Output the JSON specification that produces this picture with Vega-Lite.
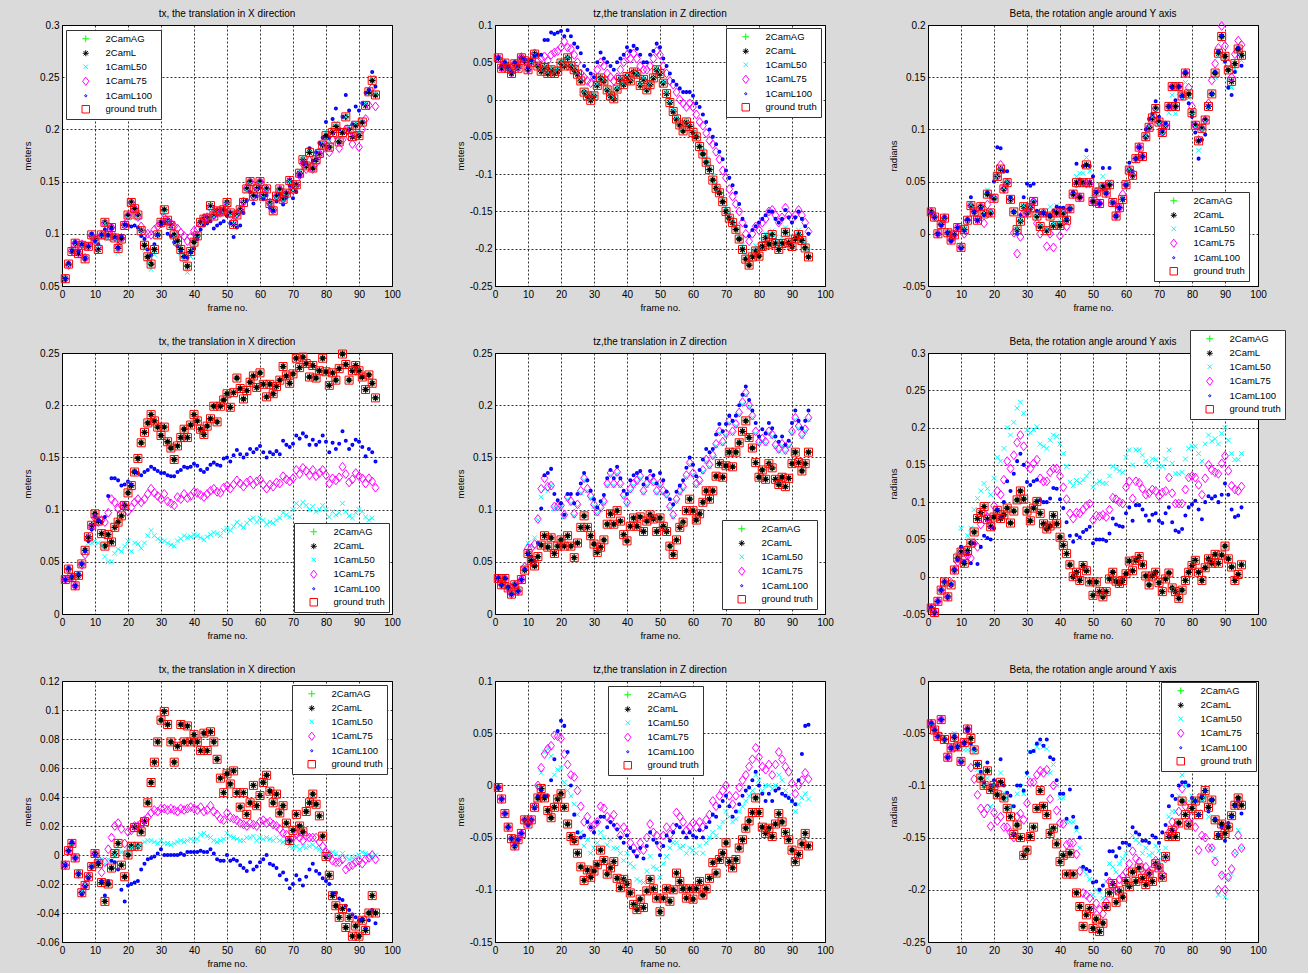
{
  "$schema": "https://vega.github.io/schema/vega-lite/v6.json",
  "background": "#dadada",
  "padding": {"left": 21, "top": 8, "right": 22, "bottom": 5},
  "config": {
    "font": "Liberation Sans",
    "view": {"fill": "white", "stroke": "black", "strokeWidth": 1},
    "axis": {"grid": true, "gridColor": "#000000", "gridDash": [2, 2], "gridOpacity": 1, "gridWidth": 0.8, "domain": false, "ticks": false, "labelFontSize": 10, "labelColor": "#000000", "labelPadding": 3, "labelFlush": false, "labelOverlap": false, "labelBound": false, "titleFontSize": 9.5, "titleFontWeight": "normal", "titleColor": "#000000"},
    "axisX": {"titlePadding": 3, "tickCount": 10},
    "title": {"fontSize": 10, "fontWeight": "normal", "color": "#000000", "offset": 1, "frame": "group"},
    "point": {"filled": false, "opacity": 1, "size": 64, "strokeWidth": 1},
    "range": {
      "category": ["#00ff00", "#000000", "#00ffff", "#ff00ff", "#0000ff", "#ff0000"],
      "symbol": ["M-0.9,0L0.9,0M0,-0.9L0,0.9", "M-0.8,0L0.8,0M0,-0.8L0,0.8M-0.56,-0.56L0.56,0.56M-0.56,0.56L0.56,-0.56", "M-0.6,-0.6L0.6,0.6M-0.6,0.6L0.6,-0.6", "M0,-1.1L0.85,0L0,1.1L-0.85,0Z", "M-0.28,0A0.28,0.28,0,1,0,0.28,0A0.28,0.28,0,1,0,-0.28,0Z", "M-1,-1L1,-1L1,1L-1,1Z"]
    },
    "legend": {"fillColor": "white", "strokeColor": "#333333", "strokeWidth": 1, "padding": 4, "symbolSize": 56, "symbolStrokeWidth": 1.3, "symbolOffset": 11, "labelOffset": 15, "labelFontSize": 9.5, "labelColor": "#000000", "rowPadding": 2.5, "symbolOpacity": 1}
  },
  "datasets": {
    "series": [{"s": "2CamAG"}, {"s": "2CamL"}, {"s": "1CamL50"}, {"s": "1CamL75"}, {"s": "1CamL100"}, {"s": "ground truth"}],
    "p1": [
{"f":1,"g":0.057,"l50":0.058,"l75":0.057,"l100":0.057},{"f":2,"g":0.071,"l50":0.070,"l75":0.070,"l100":0.072},{"f":3,"g":0.083,"l50":0.084,"l75":0.084,"l100":0.084},{"f":4,"g":0.091,"l50":0.090,"l75":0.091,"l100":0.092},{"f":5,"g":0.081,"l50":0.083,"l75":0.082,"l100":0.083},
{"f":6,"g":0.089,"l50":0.088,"l75":0.090,"l100":0.090},{"f":7,"g":0.076,"l50":0.078,"l75":0.077,"l100":0.077},{"f":8,"g":0.088,"l50":0.089,"l75":0.088,"l100":0.088},{"f":9,"g":0.099,"l50":0.097,"l75":0.098,"l100":0.100},{"f":10,"g":0.094,"l50":0.093,"l75":0.095,"l100":0.093},
{"f":11,"g":0.085,"l50":0.088,"l75":0.087,"l100":0.090},{"f":12,"g":0.099,"l50":0.098,"l75":0.099,"l100":0.099},{"f":13,"g":0.111,"l50":0.110,"l75":0.110,"l100":0.104},{"f":14,"g":0.098,"l50":0.095,"l75":0.100,"l100":0.099},{"f":15,"g":0.106,"l50":0.104,"l75":0.106,"l100":0.105},
{"f":16,"g":0.096,"l50":0.095,"l75":0.097,"l100":0.097},{"f":17,"g":0.086,"l50":0.082,"l75":0.088,"l100":0.087},{"f":18,"g":0.095,"l50":0.092,"l75":0.096,"l100":0.098},{"f":19,"g":0.108,"l50":0.106,"l75":0.109,"l100":0.109},{"f":20,"g":0.118,"l50":0.115,"l75":0.117,"l100":0.108},
{"f":21,"g":0.130,"l50":0.128,"l75":0.130,"l100":0.107},{"f":22,"g":0.124,"l50":0.121,"l75":0.124,"l100":0.108},{"f":23,"g":0.118,"l50":0.115,"l75":0.116,"l100":0.106},{"f":24,"g":0.103,"l50":0.101,"l75":0.107,"l100":0.098},{"f":25,"g":0.089,"l50":0.085,"l75":0.100,"l100":0.095},
{"f":26,"g":0.078,"l50":0.073,"l75":0.100,"l100":0.085},{"f":27,"g":0.071,"l50":0.066,"l75":0.099,"l100":0.080},{"f":28,"g":0.085,"l50":0.080,"l75":0.104,"l100":0.090},{"f":29,"g":0.099,"l50":0.098,"l75":0.107,"l100":0.099},{"f":30,"g":0.111,"l50":0.108,"l75":0.110,"l100":0.108},
{"f":31,"g":0.123,"l50":0.120,"l75":0.115,"l100":0.110},{"f":32,"g":0.113,"l50":0.112,"l75":0.112,"l100":0.100},{"f":33,"g":0.108,"l50":0.106,"l75":0.110,"l100":0.098},{"f":34,"g":0.099,"l50":0.097,"l75":0.107,"l100":0.092},{"f":35,"g":0.093,"l50":0.090,"l75":0.105,"l100":0.088},
{"f":36,"g":0.085,"l50":0.082,"l75":0.101,"l100":0.083},{"f":37,"g":0.078,"l50":0.075,"l75":0.098,"l100":0.078},{"f":38,"g":0.069,"l50":0.063,"l75":0.093,"l100":0.077},{"f":39,"g":0.083,"l50":0.078,"l75":0.097,"l100":0.082},{"f":40,"g":0.092,"l50":0.086,"l75":0.103,"l100":0.086},
{"f":41,"g":0.098,"l50":0.096,"l75":0.104,"l100":0.095},{"f":42,"g":0.111,"l50":0.108,"l75":0.110,"l100":0.104},{"f":43,"g":0.114,"l50":0.112,"l75":0.115,"l100":0.108},{"f":44,"g":0.115,"l50":0.113,"l75":0.116,"l100":0.110},{"f":45,"g":0.127,"l50":0.124,"l75":0.125,"l100":0.112},
{"f":46,"g":0.117,"l50":0.116,"l75":0.118,"l100":0.105},{"f":47,"g":0.122,"l50":0.121,"l75":0.120,"l100":0.108},{"f":48,"g":0.121,"l50":0.119,"l75":0.120,"l100":0.110},{"f":49,"g":0.123,"l50":0.120,"l75":0.122,"l100":0.112},{"f":50,"g":0.130,"l50":0.128,"l75":0.127,"l100":0.117},
{"f":51,"g":0.120,"l50":0.118,"l75":0.119,"l100":0.110},{"f":52,"g":0.109,"l50":0.110,"l75":0.112,"l100":0.097},{"f":53,"g":0.118,"l50":0.117,"l75":0.119,"l100":0.106},{"f":54,"g":0.123,"l50":0.122,"l75":0.123,"l100":0.108},{"f":55,"g":0.130,"l50":0.130,"l75":0.131,"l100":0.120},
{"f":56,"g":0.143,"l50":0.141,"l75":0.144,"l100":0.132},{"f":57,"g":0.150,"l50":0.148,"l75":0.150,"l100":0.140},{"f":58,"g":0.136,"l50":0.134,"l75":0.136,"l100":0.129},{"f":59,"g":0.143,"l50":0.142,"l75":0.145,"l100":0.136},{"f":60,"g":0.150,"l50":0.148,"l75":0.150,"l100":0.144},
{"f":61,"g":0.136,"l50":0.135,"l75":0.137,"l100":0.133},{"f":62,"g":0.143,"l50":0.141,"l75":0.143,"l100":0.137},{"f":63,"g":0.129,"l50":0.128,"l75":0.130,"l100":0.125},{"f":64,"g":0.122,"l50":0.120,"l75":0.123,"l100":0.122},{"f":65,"g":0.136,"l50":0.134,"l75":0.136,"l100":0.131},
{"f":66,"g":0.143,"l50":0.140,"l75":0.142,"l100":0.138},{"f":67,"g":0.133,"l50":0.131,"l75":0.133,"l100":0.128},{"f":68,"g":0.139,"l50":0.136,"l75":0.138,"l100":0.135},{"f":69,"g":0.151,"l50":0.150,"l75":0.150,"l100":0.146},{"f":70,"g":0.143,"l50":0.142,"l75":0.142,"l100":0.134},
{"f":71,"g":0.147,"l50":0.145,"l75":0.146,"l100":0.140},{"f":72,"g":0.158,"l50":0.160,"l75":0.156,"l100":0.155},{"f":73,"g":0.171,"l50":0.173,"l75":0.167,"l100":0.167},{"f":74,"g":0.165,"l50":0.166,"l75":0.162,"l100":0.168},{"f":75,"g":0.178,"l50":0.181,"l75":0.170,"l100":0.182},
{"f":76,"g":0.163,"l50":0.166,"l75":0.162,"l100":0.170},{"f":77,"g":0.171,"l50":0.175,"l75":0.168,"l100":0.178},{"f":78,"g":0.177,"l50":0.180,"l75":0.175,"l100":0.187},{"f":79,"g":0.185,"l50":0.188,"l75":0.181,"l100":0.192},{"f":80,"g":0.194,"l50":0.198,"l75":0.185,"l100":0.207},
{"f":81,"g":0.183,"l50":0.188,"l75":0.178,"l100":0.192},{"f":82,"g":0.197,"l50":0.200,"l75":0.190,"l100":0.210},{"f":83,"g":0.203,"l50":0.206,"l75":0.195,"l100":0.220},{"f":84,"g":0.188,"l50":0.192,"l75":0.182,"l100":0.200},{"f":85,"g":0.197,"l50":0.200,"l75":0.190,"l100":0.212},
{"f":86,"g":0.212,"l50":0.212,"l75":0.200,"l100":0.233},{"f":87,"g":0.200,"l50":0.203,"l75":0.193,"l100":0.218},{"f":88,"g":0.193,"l50":0.196,"l75":0.186,"l100":0.205},{"f":89,"g":0.204,"l50":0.206,"l75":0.195,"l100":0.222},{"f":90,"g":0.194,"l50":0.198,"l75":0.183,"l100":0.218},
{"f":91,"g":0.207,"l50":0.210,"l75":0.200,"l100":0.225},{"f":92,"g":0.223,"l50":0.225,"l75":0.210,"l100":0.235},{"f":93,"g":0.236,"l50":0.238,"l75":0.223,"l100":0.238},{"f":94,"g":0.247,"l50":0.250,"l75":0.240,"l100":0.255},{"f":95,"g":0.233,"l50":0.235,"l75":0.222,"l100":0.241}
    ],
    "p2": [
{"f":1,"g":0.056,"l50":0.057,"l75":0.055,"l100":0.056},{"f":2,"g":0.042,"l50":0.044,"l75":0.043,"l100":0.045},{"f":3,"g":0.049,"l50":0.050,"l75":0.048,"l100":0.050},{"f":4,"g":0.042,"l50":0.043,"l75":0.043,"l100":0.044},{"f":5,"g":0.035,"l50":0.037,"l75":0.036,"l100":0.037},
{"f":6,"g":0.048,"l50":0.049,"l75":0.048,"l100":0.050},{"f":7,"g":0.042,"l50":0.043,"l75":0.044,"l100":0.045},{"f":8,"g":0.056,"l50":0.055,"l75":0.057,"l100":0.056},{"f":9,"g":0.052,"l50":0.053,"l75":0.052,"l100":0.054},{"f":10,"g":0.040,"l50":0.042,"l75":0.041,"l100":0.043},
{"f":11,"g":0.050,"l50":0.051,"l75":0.052,"l100":0.053},{"f":12,"g":0.061,"l50":0.060,"l75":0.062,"l100":0.058},{"f":13,"g":0.045,"l50":0.047,"l75":0.052,"l100":0.060},{"f":14,"g":0.038,"l50":0.040,"l75":0.055,"l100":0.060},{"f":15,"g":0.043,"l50":0.045,"l75":0.058,"l100":0.080},
{"f":16,"g":0.035,"l50":0.037,"l75":0.052,"l100":0.080},{"f":17,"g":0.040,"l50":0.042,"l75":0.060,"l100":0.090},{"f":18,"g":0.035,"l50":0.038,"l75":0.063,"l100":0.088},{"f":19,"g":0.038,"l50":0.040,"l75":0.065,"l100":0.090},{"f":20,"g":0.049,"l50":0.050,"l75":0.070,"l100":0.092},
{"f":21,"g":0.045,"l50":0.047,"l75":0.078,"l100":0.085},{"f":22,"g":0.056,"l50":0.057,"l75":0.070,"l100":0.093},{"f":23,"g":0.045,"l50":0.047,"l75":0.068,"l100":0.085},{"f":24,"g":0.040,"l50":0.042,"l75":0.060,"l100":0.075},{"f":25,"g":0.034,"l50":0.036,"l75":0.050,"l100":0.070},
{"f":26,"g":0.025,"l50":0.027,"l75":0.035,"l100":0.062},{"f":27,"g":0.010,"l50":0.012,"l75":0.030,"l100":0.045},{"f":28,"g":0.005,"l50":0.007,"l75":0.025,"l100":0.040},{"f":29,"g":-0.001,"l50":0.001,"l75":0.022,"l100":0.035},{"f":30,"g":0.005,"l50":0.007,"l75":0.030,"l100":0.030},
{"f":31,"g":0.019,"l50":0.021,"l75":0.040,"l100":0.050},{"f":32,"g":0.029,"l50":0.031,"l75":0.050,"l100":0.063},{"f":33,"g":0.025,"l50":0.027,"l75":0.045,"l100":0.055},{"f":34,"g":0.013,"l50":0.015,"l75":0.035,"l100":0.050},{"f":35,"g":0.005,"l50":0.007,"l75":0.030,"l100":0.045},
{"f":36,"g":0.001,"l50":0.003,"l75":0.025,"l100":0.040},{"f":37,"g":0.014,"l50":0.016,"l75":0.030,"l100":0.050},{"f":38,"g":0.027,"l50":0.029,"l75":0.040,"l100":0.055},{"f":39,"g":0.020,"l50":0.022,"l75":0.050,"l100":0.060},{"f":40,"g":0.031,"l50":0.033,"l75":0.060,"l100":0.070},
{"f":41,"g":0.025,"l50":0.027,"l75":0.055,"l100":0.065},{"f":42,"g":0.037,"l50":0.039,"l75":0.062,"l100":0.072},{"f":43,"g":0.034,"l50":0.036,"l75":0.055,"l100":0.068},{"f":44,"g":0.019,"l50":0.021,"l75":0.045,"l100":0.060},{"f":45,"g":0.027,"l50":0.029,"l75":0.040,"l100":0.050},
{"f":46,"g":0.013,"l50":0.015,"l75":0.040,"l100":0.050},{"f":47,"g":0.020,"l50":0.022,"l75":0.045,"l100":0.060},{"f":48,"g":0.029,"l50":0.031,"l75":0.055,"l100":0.065},{"f":49,"g":0.040,"l50":0.042,"l75":0.065,"l100":0.075},{"f":50,"g":0.035,"l50":0.037,"l75":0.060,"l100":0.070},
{"f":51,"g":0.022,"l50":0.024,"l75":0.045,"l100":0.055},{"f":52,"g":0.008,"l50":0.010,"l75":0.035,"l100":0.045},{"f":53,"g":-0.004,"l50":-0.002,"l75":0.025,"l100":0.035},{"f":54,"g":-0.016,"l50":-0.013,"l75":0.020,"l100":0.025},{"f":55,"g":-0.026,"l50":-0.023,"l75":0.010,"l100":0.020},
{"f":56,"g":-0.034,"l50":-0.030,"l75":0.000,"l100":0.015},{"f":57,"g":-0.042,"l50":-0.038,"l75":-0.005,"l100":0.010},{"f":58,"g":-0.030,"l50":-0.027,"l75":-0.010,"l100":0.010},{"f":59,"g":-0.036,"l50":-0.032,"l75":-0.005,"l100":0.010},{"f":60,"g":-0.044,"l50":-0.040,"l75":-0.010,"l100":0.005},
{"f":61,"g":-0.050,"l50":-0.045,"l75":-0.020,"l100":-0.005},{"f":62,"g":-0.063,"l50":-0.058,"l75":-0.030,"l100":-0.010},{"f":63,"g":-0.073,"l50":-0.068,"l75":-0.035,"l100":-0.020},{"f":64,"g":-0.084,"l50":-0.079,"l75":-0.045,"l100":-0.030},{"f":65,"g":-0.094,"l50":-0.089,"l75":-0.055,"l100":-0.040},
{"f":66,"g":-0.108,"l50":-0.102,"l75":-0.060,"l100":-0.050},{"f":67,"g":-0.119,"l50":-0.113,"l75":-0.070,"l100":-0.060},{"f":68,"g":-0.125,"l50":-0.119,"l75":-0.080,"l100":-0.070},{"f":69,"g":-0.137,"l50":-0.131,"l75":-0.095,"l100":-0.080},{"f":70,"g":-0.150,"l50":-0.144,"l75":-0.105,"l100":-0.095},
{"f":71,"g":-0.159,"l50":-0.153,"l75":-0.120,"l100":-0.105},{"f":72,"g":-0.165,"l50":-0.160,"l75":-0.130,"l100":-0.115},{"f":73,"g":-0.174,"l50":-0.169,"l75":-0.140,"l100":-0.125},{"f":74,"g":-0.187,"l50":-0.181,"l75":-0.150,"l100":-0.140},{"f":75,"g":-0.201,"l50":-0.195,"l75":-0.165,"l100":-0.160},
{"f":76,"g":-0.214,"l50":-0.207,"l75":-0.180,"l100":-0.170},{"f":77,"g":-0.222,"l50":-0.214,"l75":-0.190,"l100":-0.183},{"f":78,"g":-0.211,"l50":-0.203,"l75":-0.180,"l100":-0.175},{"f":79,"g":-0.203,"l50":-0.196,"l75":-0.170,"l100":-0.170},{"f":80,"g":-0.210,"l50":-0.200,"l75":-0.175,"l100":-0.165},
{"f":81,"g":-0.197,"l50":-0.188,"l75":-0.165,"l100":-0.160},{"f":82,"g":-0.185,"l50":-0.180,"l75":-0.160,"l100":-0.155},{"f":83,"g":-0.194,"l50":-0.186,"l75":-0.150,"l100":-0.150},{"f":84,"g":-0.181,"l50":-0.176,"l75":-0.148,"l100":-0.150},{"f":85,"g":-0.193,"l50":-0.185,"l75":-0.155,"l100":-0.160},
{"f":86,"g":-0.201,"l50":-0.192,"l75":-0.165,"l100":-0.165},{"f":87,"g":-0.193,"l50":-0.185,"l75":-0.158,"l100":-0.160},{"f":88,"g":-0.178,"l50":-0.172,"l75":-0.145,"l100":-0.148},{"f":89,"g":-0.192,"l50":-0.184,"l75":-0.155,"l100":-0.158},{"f":90,"g":-0.197,"l50":-0.189,"l75":-0.160,"l100":-0.165},
{"f":91,"g":-0.187,"l50":-0.180,"l75":-0.155,"l100":-0.158},{"f":92,"g":-0.181,"l50":-0.175,"l75":-0.148,"l100":-0.150},{"f":93,"g":-0.189,"l50":-0.183,"l75":-0.155,"l100":-0.160},{"f":94,"g":-0.199,"l50":-0.193,"l75":-0.165,"l100":-0.170},{"f":95,"g":-0.211,"l50":-0.203,"l75":-0.177,"l100":-0.180}
    ],
    "p3": [
{"f":1,"g":0.021,"l50":0.020,"l75":0.021,"l100":0.020},{"f":2,"g":0.016,"l50":0.015,"l75":0.016,"l100":0.016},{"f":3,"g":0.000,"l50":0.001,"l75":0.000,"l100":0.000},{"f":4,"g":0.009,"l50":0.010,"l75":0.009,"l100":0.008},{"f":5,"g":0.015,"l50":0.014,"l75":0.015,"l100":0.016},
{"f":6,"g":0.001,"l50":0.002,"l75":0.001,"l100":0.001},{"f":7,"g":-0.006,"l50":-0.005,"l75":-0.006,"l100":-0.007},{"f":8,"g":-0.001,"l50":0.000,"l75":-0.001,"l100":-0.001},{"f":9,"g":0.006,"l50":0.007,"l75":0.006,"l100":0.006},{"f":10,"g":-0.013,"l50":-0.012,"l75":-0.013,"l100":-0.014},
{"f":11,"g":0.004,"l50":0.005,"l75":0.000,"l100":0.003},{"f":12,"g":0.013,"l50":0.013,"l75":0.013,"l100":0.014},{"f":13,"g":0.027,"l50":0.028,"l75":0.027,"l100":0.035},{"f":14,"g":0.021,"l50":0.022,"l75":0.021,"l100":0.021},{"f":15,"g":0.013,"l50":0.015,"l75":0.014,"l100":0.013},
{"f":16,"g":0.026,"l50":0.025,"l75":0.026,"l100":0.024},{"f":17,"g":0.019,"l50":0.020,"l75":0.010,"l100":0.018},{"f":18,"g":0.038,"l50":0.042,"l75":0.028,"l100":0.040},{"f":19,"g":0.020,"l50":0.022,"l75":0.020,"l100":0.036},{"f":20,"g":0.034,"l50":0.036,"l75":0.034,"l100":0.050},
{"f":21,"g":0.055,"l50":0.055,"l75":0.055,"l100":0.083},{"f":22,"g":0.062,"l50":0.063,"l75":0.066,"l100":0.082},{"f":23,"g":0.043,"l50":0.044,"l75":0.043,"l100":0.060},{"f":24,"g":0.049,"l50":0.050,"l75":0.049,"l100":0.060},{"f":25,"g":0.033,"l50":0.034,"l75":0.033,"l100":0.035},
{"f":26,"g":0.021,"l50":0.022,"l75":0.001,"l100":0.021},{"f":27,"g":0.004,"l50":0.005,"l75":-0.019,"l100":0.000},{"f":28,"g":0.012,"l50":0.013,"l75":-0.003,"l100":0.018},{"f":29,"g":0.026,"l50":0.027,"l75":0.020,"l100":0.035},{"f":30,"g":0.020,"l50":0.022,"l75":0.020,"l100":0.048},
{"f":31,"g":0.025,"l50":0.026,"l75":0.025,"l100":0.046},{"f":32,"g":0.031,"l50":0.033,"l75":0.031,"l100":0.048},{"f":33,"g":0.017,"l50":0.019,"l75":0.010,"l100":0.022},{"f":34,"g":0.007,"l50":0.009,"l75":0.000,"l100":0.020},{"f":35,"g":0.020,"l50":0.021,"l75":0.020,"l100":0.020},
{"f":36,"g":0.003,"l50":0.005,"l75":-0.012,"l100":0.018},{"f":37,"g":0.017,"l50":0.026,"l75":0.000,"l100":0.018},{"f":38,"g":0.008,"l50":0.010,"l75":-0.013,"l100":0.022},{"f":39,"g":0.020,"l50":0.027,"l75":0.020,"l100":0.026},{"f":40,"g":0.008,"l50":0.012,"l75":-0.002,"l100":0.025},
{"f":41,"g":0.020,"l50":0.022,"l75":0.020,"l100":0.025},{"f":42,"g":0.013,"l50":0.015,"l75":0.007,"l100":0.015},{"f":43,"g":0.024,"l50":0.025,"l75":0.024,"l100":0.024},{"f":44,"g":0.038,"l50":0.040,"l75":0.038,"l100":0.040},{"f":45,"g":0.049,"l50":0.055,"l75":0.048,"l100":0.067},
{"f":46,"g":0.035,"l50":0.058,"l75":0.035,"l100":0.052},{"f":47,"g":0.049,"l50":0.058,"l75":0.049,"l100":0.065},{"f":48,"g":0.066,"l50":0.073,"l75":0.048,"l100":0.080},{"f":49,"g":0.049,"l50":0.060,"l75":0.048,"l100":0.065},{"f":50,"g":0.031,"l50":0.035,"l75":0.031,"l100":0.055},
{"f":51,"g":0.040,"l50":0.042,"l75":0.040,"l100":0.040},{"f":52,"g":0.029,"l50":0.046,"l75":0.029,"l100":0.029},{"f":53,"g":0.045,"l50":0.055,"l75":0.045,"l100":0.063},{"f":54,"g":0.039,"l50":0.041,"l75":0.039,"l100":0.039},{"f":55,"g":0.047,"l50":0.050,"l75":0.047,"l100":0.063},
{"f":56,"g":0.030,"l50":0.032,"l75":0.030,"l100":0.030},{"f":57,"g":0.017,"l50":0.018,"l75":0.017,"l100":0.017},{"f":58,"g":0.025,"l50":0.026,"l75":0.025,"l100":0.025},{"f":59,"g":0.033,"l50":0.035,"l75":0.038,"l100":0.033},{"f":60,"g":0.047,"l50":0.049,"l75":0.047,"l100":0.047},
{"f":61,"g":0.061,"l50":0.062,"l75":0.061,"l100":0.068},{"f":62,"g":0.056,"l50":0.058,"l75":0.056,"l100":0.060},{"f":63,"g":0.072,"l50":0.072,"l75":0.072,"l100":0.072},{"f":64,"g":0.083,"l50":0.084,"l75":0.083,"l100":0.083},{"f":65,"g":0.074,"l50":0.074,"l75":0.074,"l100":0.074},
{"f":66,"g":0.093,"l50":0.094,"l75":0.093,"l100":0.100},{"f":67,"g":0.102,"l50":0.103,"l75":0.102,"l100":0.110},{"f":68,"g":0.111,"l50":0.112,"l75":0.111,"l100":0.115},{"f":69,"g":0.120,"l50":0.118,"l75":0.120,"l100":0.127},{"f":70,"g":0.107,"l50":0.105,"l75":0.107,"l100":0.112},
{"f":71,"g":0.097,"l50":0.095,"l75":0.097,"l100":0.100},{"f":72,"g":0.104,"l50":0.103,"l75":0.104,"l100":0.106},{"f":73,"g":0.122,"l50":0.116,"l75":0.122,"l100":0.122},{"f":74,"g":0.141,"l50":0.133,"l75":0.141,"l100":0.140},{"f":75,"g":0.122,"l50":0.115,"l75":0.122,"l100":0.128},
{"f":76,"g":0.141,"l50":0.135,"l75":0.141,"l100":0.141},{"f":77,"g":0.132,"l50":0.130,"l75":0.132,"l100":0.132},{"f":78,"g":0.154,"l50":0.145,"l75":0.154,"l100":0.155},{"f":79,"g":0.134,"l50":0.130,"l75":0.140,"l100":0.125},{"f":80,"g":0.116,"l50":0.114,"l75":0.122,"l100":0.112},
{"f":81,"g":0.104,"l50":0.102,"l75":0.104,"l100":0.097},{"f":82,"g":0.089,"l50":0.080,"l75":0.090,"l100":0.072},{"f":83,"g":0.101,"l50":0.099,"l75":0.101,"l100":0.090},{"f":84,"g":0.109,"l50":0.107,"l75":0.109,"l100":0.095},{"f":85,"g":0.122,"l50":0.120,"l75":0.125,"l100":0.122},
{"f":86,"g":0.134,"l50":0.135,"l75":0.147,"l100":0.134},{"f":87,"g":0.154,"l50":0.150,"l75":0.163,"l100":0.155},{"f":88,"g":0.173,"l50":0.170,"l75":0.178,"l100":0.175},{"f":89,"g":0.189,"l50":0.185,"l75":0.199,"l100":0.190},{"f":90,"g":0.170,"l50":0.165,"l75":0.180,"l100":0.165},
{"f":91,"g":0.157,"l50":0.148,"l75":0.163,"l100":0.140},{"f":92,"g":0.146,"l50":0.140,"l75":0.150,"l100":0.133},{"f":93,"g":0.163,"l50":0.158,"l75":0.172,"l100":0.155},{"f":94,"g":0.177,"l50":0.172,"l75":0.185,"l100":0.178},{"f":95,"g":0.171,"l50":0.166,"l75":0.181,"l100":0.161}
    ],
    "p4": [
{"f":1,"g":0.033,"l50":0.034,"l75":0.033,"l100":0.033},{"f":2,"g":0.043,"l50":0.043,"l75":0.043,"l100":0.044},{"f":3,"g":0.035,"l50":0.036,"l75":0.035,"l100":0.036},{"f":4,"g":0.027,"l50":0.028,"l75":0.027,"l100":0.027},{"f":5,"g":0.037,"l50":0.038,"l75":0.037,"l100":0.038},
{"f":6,"g":0.048,"l50":0.048,"l75":0.047,"l100":0.048},{"f":7,"g":0.061,"l50":0.058,"l75":0.057,"l100":0.060},{"f":8,"g":0.074,"l50":0.068,"l75":0.072,"l100":0.070},{"f":9,"g":0.085,"l50":0.068,"l75":0.083,"l100":0.081},{"f":10,"g":0.096,"l50":0.070,"l75":0.092,"l100":0.093},
{"f":11,"g":0.089,"l50":0.068,"l75":0.088,"l100":0.090},{"f":12,"g":0.077,"l50":0.066,"l75":0.090,"l100":0.088},{"f":13,"g":0.065,"l50":0.055,"l75":0.088,"l100":0.093},{"f":14,"g":0.076,"l50":0.050,"l75":0.097,"l100":0.113},{"f":15,"g":0.069,"l50":0.050,"l75":0.110,"l100":0.130},
{"f":16,"g":0.083,"l50":0.058,"l75":0.107,"l100":0.130},{"f":17,"g":0.088,"l50":0.062,"l75":0.101,"l100":0.128},{"f":18,"g":0.094,"l50":0.060,"l75":0.104,"l100":0.123},{"f":19,"g":0.104,"l50":0.065,"l75":0.104,"l100":0.124},{"f":20,"g":0.116,"l50":0.070,"l75":0.098,"l100":0.127},
{"f":21,"g":0.123,"l50":0.060,"l75":0.102,"l100":0.124},{"f":22,"g":0.136,"l50":0.068,"l75":0.107,"l100":0.137},{"f":23,"g":0.149,"l50":0.067,"l75":0.110,"l100":0.135},{"f":24,"g":0.164,"l50":0.063,"l75":0.107,"l100":0.133},{"f":25,"g":0.174,"l50":0.068,"l75":0.110,"l100":0.136},
{"f":26,"g":0.183,"l50":0.075,"l75":0.115,"l100":0.138},{"f":27,"g":0.191,"l50":0.080,"l75":0.120,"l100":0.141},{"f":28,"g":0.185,"l50":0.075,"l75":0.116,"l100":0.139},{"f":29,"g":0.179,"l50":0.072,"l75":0.113,"l100":0.137},{"f":30,"g":0.171,"l50":0.070,"l75":0.110,"l100":0.135},
{"f":31,"g":0.179,"l50":0.070,"l75":0.115,"l100":0.135},{"f":32,"g":0.165,"l50":0.068,"l75":0.108,"l100":0.133},{"f":33,"g":0.159,"l50":0.066,"l75":0.106,"l100":0.132},{"f":34,"g":0.148,"l50":0.065,"l75":0.104,"l100":0.132},{"f":35,"g":0.161,"l50":0.070,"l75":0.112,"l100":0.136},
{"f":36,"g":0.169,"l50":0.072,"l75":0.110,"l100":0.138},{"f":37,"g":0.177,"l50":0.075,"l75":0.115,"l100":0.141},{"f":38,"g":0.169,"l50":0.073,"l75":0.111,"l100":0.140},{"f":39,"g":0.181,"l50":0.074,"l75":0.113,"l100":0.141},{"f":40,"g":0.191,"l50":0.076,"l75":0.117,"l100":0.144},
{"f":41,"g":0.185,"l50":0.075,"l75":0.116,"l100":0.142},{"f":42,"g":0.177,"l50":0.073,"l75":0.114,"l100":0.138},{"f":43,"g":0.172,"l50":0.071,"l75":0.112,"l100":0.136},{"f":44,"g":0.180,"l50":0.074,"l75":0.115,"l100":0.139},{"f":45,"g":0.187,"l50":0.076,"l75":0.118,"l100":0.143},
{"f":46,"g":0.199,"l50":0.078,"l75":0.120,"l100":0.145},{"f":47,"g":0.184,"l50":0.077,"l75":0.117,"l100":0.143},{"f":48,"g":0.199,"l50":0.075,"l75":0.116,"l100":0.142},{"f":49,"g":0.205,"l50":0.080,"l75":0.121,"l100":0.149},{"f":50,"g":0.211,"l50":0.082,"l75":0.123,"l100":0.150},
{"f":51,"g":0.198,"l50":0.080,"l75":0.120,"l100":0.146},{"f":52,"g":0.212,"l50":0.084,"l75":0.124,"l100":0.152},{"f":53,"g":0.226,"l50":0.088,"l75":0.128,"l100":0.157},{"f":54,"g":0.216,"l50":0.085,"l75":0.125,"l100":0.153},{"f":55,"g":0.206,"l50":0.083,"l75":0.122,"l100":0.150},
{"f":56,"g":0.214,"l50":0.087,"l75":0.126,"l100":0.153},{"f":57,"g":0.222,"l50":0.090,"l75":0.128,"l100":0.158},{"f":58,"g":0.228,"l50":0.092,"l75":0.124,"l100":0.155},{"f":59,"g":0.217,"l50":0.088,"l75":0.127,"l100":0.158},{"f":60,"g":0.231,"l50":0.092,"l75":0.129,"l100":0.161},
{"f":61,"g":0.220,"l50":0.090,"l75":0.124,"l100":0.155},{"f":62,"g":0.208,"l50":0.086,"l75":0.120,"l100":0.150},{"f":63,"g":0.220,"l50":0.088,"l75":0.124,"l100":0.155},{"f":64,"g":0.211,"l50":0.087,"l75":0.122,"l100":0.153},{"f":65,"g":0.218,"l50":0.090,"l75":0.126,"l100":0.156},
{"f":66,"g":0.224,"l50":0.092,"l75":0.125,"l100":0.153},{"f":67,"g":0.237,"l50":0.097,"l75":0.132,"l100":0.166},{"f":68,"g":0.228,"l50":0.095,"l75":0.129,"l100":0.162},{"f":69,"g":0.221,"l50":0.093,"l75":0.127,"l100":0.160},{"f":70,"g":0.230,"l50":0.100,"l75":0.130,"l100":0.163},
{"f":71,"g":0.245,"l50":0.106,"l75":0.138,"l100":0.171},{"f":72,"g":0.236,"l50":0.103,"l75":0.134,"l100":0.168},{"f":73,"g":0.246,"l50":0.107,"l75":0.140,"l100":0.173},{"f":74,"g":0.240,"l50":0.104,"l75":0.137,"l100":0.170},{"f":75,"g":0.227,"l50":0.100,"l75":0.133,"l100":0.162},
{"f":76,"g":0.238,"l50":0.103,"l75":0.138,"l100":0.167},{"f":77,"g":0.226,"l50":0.098,"l75":0.132,"l100":0.162},{"f":78,"g":0.233,"l50":0.100,"l75":0.135,"l100":0.165},{"f":79,"g":0.245,"l50":0.104,"l75":0.138,"l100":0.171},{"f":80,"g":0.232,"l50":0.100,"l75":0.133,"l100":0.165},
{"f":81,"g":0.219,"l50":0.093,"l75":0.125,"l100":0.155},{"f":82,"g":0.231,"l50":0.098,"l75":0.130,"l100":0.164},{"f":83,"g":0.224,"l50":0.095,"l75":0.128,"l100":0.158},{"f":84,"g":0.235,"l50":0.097,"l75":0.131,"l100":0.163},{"f":85,"g":0.249,"l50":0.106,"l75":0.141,"l100":0.175},
{"f":86,"g":0.239,"l50":0.098,"l75":0.134,"l100":0.166},{"f":87,"g":0.224,"l50":0.094,"l75":0.126,"l100":0.158},{"f":88,"g":0.233,"l50":0.092,"l75":0.129,"l100":0.162},{"f":89,"g":0.238,"l50":0.097,"l75":0.135,"l100":0.167},{"f":90,"g":0.233,"l50":0.100,"l75":0.132,"l100":0.165},
{"f":91,"g":0.227,"l50":0.098,"l75":0.130,"l100":0.160},{"f":92,"g":0.215,"l50":0.093,"l75":0.125,"l100":0.151},{"f":93,"g":0.229,"l50":0.090,"l75":0.130,"l100":0.158},{"f":94,"g":0.221,"l50":0.092,"l75":0.127,"l100":0.155},{"f":95,"g":0.207,"l50":0.085,"l75":0.121,"l100":0.146}
    ],
    "p5": [
{"f":1,"g":0.034,"l50":0.034,"l75":0.034,"l100":0.035},{"f":2,"g":0.028,"l50":0.028,"l75":0.028,"l100":0.028},{"f":3,"g":0.034,"l50":0.033,"l75":0.034,"l100":0.034},{"f":4,"g":0.025,"l50":0.025,"l75":0.025,"l100":0.026},{"f":5,"g":0.019,"l50":0.019,"l75":0.019,"l100":0.019},
{"f":6,"g":0.028,"l50":0.028,"l75":0.028,"l100":0.028},{"f":7,"g":0.022,"l50":0.022,"l75":0.022,"l100":0.022},{"f":8,"g":0.033,"l50":0.034,"l75":0.033,"l100":0.033},{"f":9,"g":0.042,"l50":0.046,"l75":0.045,"l100":0.043},{"f":10,"g":0.058,"l50":0.068,"l75":0.063,"l100":0.057},
{"f":11,"g":0.051,"l50":0.065,"l75":0.063,"l100":0.055},{"f":12,"g":0.046,"l50":0.073,"l75":0.067,"l100":0.051},{"f":13,"g":0.055,"l50":0.090,"l75":0.091,"l100":0.068},{"f":14,"g":0.066,"l50":0.112,"l75":0.120,"l100":0.101},{"f":15,"g":0.075,"l50":0.120,"l75":0.130,"l100":0.133},
{"f":16,"g":0.064,"l50":0.118,"l75":0.122,"l100":0.135},{"f":17,"g":0.073,"l50":0.123,"l75":0.123,"l100":0.139},{"f":18,"g":0.058,"l50":0.101,"l75":0.103,"l100":0.115},{"f":19,"g":0.065,"l50":0.101,"l75":0.103,"l100":0.109},{"f":20,"g":0.071,"l50":0.102,"l75":0.104,"l100":0.106},
{"f":21,"g":0.065,"l50":0.093,"l75":0.095,"l100":0.095},{"f":22,"g":0.075,"l50":0.110,"l75":0.112,"l100":0.115},{"f":23,"g":0.065,"l50":0.106,"l75":0.108,"l100":0.115},{"f":24,"g":0.054,"l50":0.094,"l75":0.096,"l100":0.106},{"f":25,"g":0.068,"l50":0.103,"l75":0.105,"l100":0.115},
{"f":26,"g":0.083,"l50":0.116,"l75":0.118,"l100":0.125},{"f":27,"g":0.094,"l50":0.128,"l75":0.130,"l100":0.135},{"f":28,"g":0.083,"l50":0.118,"l75":0.120,"l100":0.128},{"f":29,"g":0.075,"l50":0.111,"l75":0.113,"l100":0.118},{"f":30,"g":0.067,"l50":0.103,"l75":0.105,"l100":0.110},
{"f":31,"g":0.059,"l50":0.096,"l75":0.098,"l100":0.102},{"f":32,"g":0.064,"l50":0.100,"l75":0.102,"l100":0.108},{"f":33,"g":0.071,"l50":0.106,"l75":0.108,"l100":0.114},{"f":34,"g":0.086,"l50":0.123,"l75":0.125,"l100":0.130},{"f":35,"g":0.096,"l50":0.133,"l75":0.135,"l100":0.138},
{"f":36,"g":0.086,"l50":0.123,"l75":0.125,"l100":0.130},{"f":37,"g":0.099,"l50":0.134,"l75":0.136,"l100":0.141},{"f":38,"g":0.089,"l50":0.123,"l75":0.125,"l100":0.130},{"f":39,"g":0.076,"l50":0.112,"l75":0.114,"l100":0.118},{"f":40,"g":0.070,"l50":0.105,"l75":0.107,"l100":0.115},
{"f":41,"g":0.084,"l50":0.118,"l75":0.120,"l100":0.128},{"f":42,"g":0.092,"l50":0.123,"l75":0.125,"l100":0.133},{"f":43,"g":0.084,"l50":0.126,"l75":0.128,"l100":0.135},{"f":44,"g":0.093,"l50":0.130,"l75":0.132,"l100":0.137},{"f":45,"g":0.079,"l50":0.116,"l75":0.118,"l100":0.124},
{"f":46,"g":0.089,"l50":0.123,"l75":0.125,"l100":0.130},{"f":47,"g":0.095,"l50":0.128,"l75":0.130,"l100":0.137},{"f":48,"g":0.091,"l50":0.125,"l75":0.127,"l100":0.133},{"f":49,"g":0.079,"l50":0.116,"l75":0.118,"l100":0.125},{"f":50,"g":0.092,"l50":0.123,"l75":0.125,"l100":0.135},
{"f":51,"g":0.084,"l50":0.116,"l75":0.118,"l100":0.128},{"f":52,"g":0.079,"l50":0.113,"l75":0.115,"l100":0.117},{"f":53,"g":0.065,"l50":0.101,"l75":0.103,"l100":0.110},{"f":54,"g":0.057,"l50":0.093,"l75":0.095,"l100":0.105},{"f":55,"g":0.071,"l50":0.108,"l75":0.110,"l100":0.117},
{"f":56,"g":0.083,"l50":0.116,"l75":0.118,"l100":0.123},{"f":57,"g":0.088,"l50":0.120,"l75":0.122,"l100":0.128},{"f":58,"g":0.099,"l50":0.131,"l75":0.133,"l100":0.140},{"f":59,"g":0.110,"l50":0.143,"l75":0.145,"l100":0.150},{"f":60,"g":0.099,"l50":0.133,"l75":0.135,"l100":0.143},
{"f":61,"g":0.090,"l50":0.123,"l75":0.125,"l100":0.132},{"f":62,"g":0.096,"l50":0.126,"l75":0.128,"l100":0.138},{"f":63,"g":0.107,"l50":0.136,"l75":0.138,"l100":0.148},{"f":64,"g":0.118,"l50":0.146,"l75":0.148,"l100":0.158},{"f":65,"g":0.110,"l50":0.141,"l75":0.143,"l100":0.155},
{"f":66,"g":0.118,"l50":0.150,"l75":0.152,"l100":0.158},{"f":67,"g":0.132,"l50":0.161,"l75":0.163,"l100":0.172},{"f":68,"g":0.144,"l50":0.173,"l75":0.175,"l100":0.182},{"f":69,"g":0.131,"l50":0.163,"l75":0.165,"l100":0.175},{"f":70,"g":0.142,"l50":0.171,"l75":0.173,"l100":0.182},
{"f":71,"g":0.155,"l50":0.183,"l75":0.185,"l100":0.190},{"f":72,"g":0.141,"l50":0.173,"l75":0.175,"l100":0.185},{"f":73,"g":0.155,"l50":0.180,"l75":0.182,"l100":0.190},{"f":74,"g":0.164,"l50":0.191,"l75":0.193,"l100":0.200},{"f":75,"g":0.175,"l50":0.201,"l75":0.203,"l100":0.210},
{"f":76,"g":0.185,"l50":0.210,"l75":0.212,"l100":0.218},{"f":77,"g":0.169,"l50":0.198,"l75":0.200,"l100":0.205},{"f":78,"g":0.159,"l50":0.188,"l75":0.190,"l100":0.195},{"f":79,"g":0.145,"l50":0.173,"l75":0.175,"l100":0.183},{"f":80,"g":0.131,"l50":0.163,"l75":0.165,"l100":0.170},
{"f":81,"g":0.138,"l50":0.166,"l75":0.168,"l100":0.177},{"f":82,"g":0.129,"l50":0.163,"l75":0.165,"l100":0.173},{"f":83,"g":0.144,"l50":0.173,"l75":0.175,"l100":0.183},{"f":84,"g":0.140,"l50":0.170,"l75":0.172,"l100":0.178},{"f":85,"g":0.129,"l50":0.160,"l75":0.162,"l100":0.170},
{"f":86,"g":0.124,"l50":0.156,"l75":0.158,"l100":0.165},{"f":87,"g":0.131,"l50":0.161,"l75":0.163,"l100":0.170},{"f":88,"g":0.122,"l50":0.155,"l75":0.157,"l100":0.162},{"f":89,"g":0.130,"l50":0.161,"l75":0.163,"l100":0.166},{"f":90,"g":0.144,"l50":0.173,"l75":0.175,"l100":0.183},
{"f":91,"g":0.155,"l50":0.186,"l75":0.188,"l100":0.195},{"f":92,"g":0.145,"l50":0.178,"l75":0.180,"l100":0.185},{"f":93,"g":0.137,"l50":0.170,"l75":0.172,"l100":0.178},{"f":94,"g":0.144,"l50":0.175,"l75":0.177,"l100":0.185},{"f":95,"g":0.155,"l50":0.186,"l75":0.188,"l100":0.195}
    ],
    "p6": [
{"f":1,"g":-0.042,"l50":-0.042,"l75":-0.042,"l100":-0.041},{"f":2,"g":-0.048,"l50":-0.047,"l75":-0.048,"l100":-0.048},{"f":3,"g":-0.033,"l50":-0.033,"l75":-0.033,"l100":-0.033},{"f":4,"g":-0.018,"l50":-0.018,"l75":-0.018,"l100":-0.018},{"f":5,"g":-0.007,"l50":-0.008,"l75":-0.007,"l100":-0.007},
{"f":6,"g":-0.027,"l50":-0.026,"l75":-0.027,"l100":-0.027},{"f":7,"g":-0.011,"l50":-0.010,"l75":-0.008,"l100":-0.010},{"f":8,"g":0.009,"l50":0.010,"l75":0.009,"l100":0.010},{"f":9,"g":0.025,"l50":0.030,"l75":0.020,"l100":0.022},{"f":10,"g":0.033,"l50":0.065,"l75":0.035,"l100":0.040},
{"f":11,"g":0.018,"l50":0.040,"l75":0.025,"l100":0.020},{"f":12,"g":0.035,"l50":0.055,"l75":0.028,"l100":0.030},{"f":13,"g":0.045,"l50":0.065,"l75":0.025,"l100":0.018},{"f":14,"g":0.060,"l50":0.090,"l75":0.045,"l100":0.045},{"f":15,"g":0.078,"l50":0.105,"l75":0.040,"l100":0.017},
{"f":16,"g":0.086,"l50":0.115,"l75":0.070,"l100":0.040},{"f":17,"g":0.094,"l50":0.125,"l75":0.085,"l100":0.055},{"f":18,"g":0.077,"l50":0.118,"l75":0.080,"l100":0.052},{"f":19,"g":0.067,"l50":0.110,"l75":0.070,"l100":0.050},{"f":20,"g":0.080,"l50":0.132,"l75":0.095,"l100":0.065},
{"f":21,"g":0.089,"l50":0.160,"l75":0.115,"l100":0.090},{"f":22,"g":0.078,"l50":0.155,"l75":0.110,"l100":0.080},{"f":23,"g":0.083,"l50":0.172,"l75":0.130,"l100":0.100},{"f":24,"g":0.092,"l50":0.200,"l75":0.155,"l100":0.128},{"f":25,"g":0.072,"l50":0.190,"l75":0.145,"l100":0.115},
{"f":26,"g":0.088,"l50":0.207,"l75":0.163,"l100":0.138},{"f":27,"g":0.103,"l50":0.226,"l75":0.180,"l100":0.155},{"f":28,"g":0.115,"l50":0.234,"l75":0.190,"l100":0.165},{"f":29,"g":0.104,"l50":0.219,"l75":0.175,"l100":0.150},{"f":30,"g":0.088,"l50":0.197,"l75":0.150,"l100":0.127},
{"f":31,"g":0.075,"l50":0.193,"l75":0.145,"l100":0.123},{"f":32,"g":0.092,"l50":0.197,"l75":0.152,"l100":0.128},{"f":33,"g":0.101,"l50":0.201,"l75":0.157,"l100":0.130},{"f":34,"g":0.085,"l50":0.178,"l75":0.132,"l100":0.103},{"f":35,"g":0.071,"l50":0.175,"l75":0.128,"l100":0.100},
{"f":36,"g":0.064,"l50":0.172,"l75":0.128,"l100":0.100},{"f":37,"g":0.068,"l50":0.183,"l75":0.140,"l100":0.105},{"f":38,"g":0.082,"l50":0.190,"l75":0.145,"l100":0.119},{"f":39,"g":0.071,"l50":0.188,"l75":0.145,"l100":0.118},{"f":40,"g":0.053,"l50":0.178,"l75":0.135,"l100":0.104},
{"f":41,"g":0.042,"l50":0.165,"l75":0.120,"l100":0.092},{"f":42,"g":0.031,"l50":0.148,"l75":0.104,"l100":0.073},{"f":43,"g":0.016,"l50":0.127,"l75":0.085,"l100":0.055},{"f":44,"g":0.000,"l50":0.122,"l75":0.078,"l100":0.047},{"f":45,"g":0.006,"l50":0.129,"l75":0.086,"l100":0.056},
{"f":46,"g":-0.005,"l50":0.126,"l75":0.085,"l100":0.053},{"f":47,"g":0.015,"l50":0.130,"l75":0.090,"l100":0.060},{"f":48,"g":0.008,"l50":0.135,"l75":0.095,"l100":0.063},{"f":49,"g":-0.007,"l50":0.140,"l75":0.098,"l100":0.067},{"f":50,"g":-0.025,"l50":0.120,"l75":0.076,"l100":0.045},
{"f":51,"g":-0.007,"l50":0.125,"l75":0.082,"l100":0.050},{"f":52,"g":-0.020,"l50":0.128,"l75":0.081,"l100":0.050},{"f":53,"g":-0.027,"l50":0.125,"l75":0.083,"l100":0.050},{"f":54,"g":-0.020,"l50":0.125,"l75":0.080,"l100":0.048},{"f":55,"g":-0.003,"l50":0.135,"l75":0.090,"l100":0.058},
{"f":56,"g":0.006,"l50":0.148,"l75":0.106,"l100":0.078},{"f":57,"g":-0.006,"l50":0.145,"l75":0.104,"l100":0.070},{"f":58,"g":-0.009,"l50":0.142,"l75":0.100,"l100":0.068},{"f":59,"g":-0.005,"l50":0.140,"l75":0.098,"l100":0.067},{"f":60,"g":0.004,"l50":0.160,"l75":0.120,"l100":0.085},
{"f":61,"g":0.021,"l50":0.170,"l75":0.128,"l100":0.093},{"f":62,"g":0.008,"l50":0.150,"l75":0.105,"l100":0.075},{"f":63,"g":0.022,"l50":0.170,"l75":0.128,"l100":0.096},{"f":64,"g":0.027,"l50":0.170,"l75":0.126,"l100":0.096},{"f":65,"g":0.016,"l50":0.163,"l75":0.118,"l100":0.090},
{"f":66,"g":0.001,"l50":0.155,"l75":0.110,"l100":0.082},{"f":67,"g":-0.011,"l50":0.150,"l75":0.112,"l100":0.075},{"f":68,"g":0.001,"l50":0.158,"l75":0.117,"l100":0.083},{"f":69,"g":0.006,"l50":0.157,"l75":0.115,"l100":0.085},{"f":70,"g":-0.008,"l50":0.148,"l75":0.108,"l100":0.075},
{"f":71,"g":-0.020,"l50":0.148,"l75":0.113,"l100":0.072},{"f":72,"g":-0.003,"l50":0.158,"l75":0.115,"l100":0.085},{"f":73,"g":0.005,"l50":0.170,"l75":0.133,"l100":0.093},{"f":74,"g":-0.015,"l50":0.152,"l75":0.112,"l100":0.073},{"f":75,"g":-0.020,"l50":0.138,"l75":0.098,"l100":0.062},
{"f":76,"g":-0.029,"l50":0.138,"l75":0.098,"l100":0.060},{"f":77,"g":-0.018,"l50":0.140,"l75":0.098,"l100":0.064},{"f":78,"g":-0.005,"l50":0.158,"l75":0.117,"l100":0.082},{"f":79,"g":0.006,"l50":0.172,"l75":0.133,"l100":0.093},{"f":80,"g":0.015,"l50":0.175,"l75":0.135,"l100":0.097},
{"f":81,"g":0.022,"l50":0.175,"l75":0.133,"l100":0.102},{"f":82,"g":0.006,"l50":0.165,"l75":0.123,"l100":0.090},{"f":83,"g":-0.005,"l50":0.155,"l75":0.110,"l100":0.077},{"f":84,"g":0.012,"l50":0.178,"l75":0.132,"l100":0.100},{"f":85,"g":0.024,"l50":0.190,"l75":0.150,"l100":0.108},
{"f":86,"g":0.018,"l50":0.182,"l75":0.143,"l100":0.105},{"f":87,"g":0.030,"l50":0.185,"l75":0.140,"l100":0.108},{"f":88,"g":0.018,"l50":0.178,"l75":0.138,"l100":0.100},{"f":89,"g":0.029,"l50":0.192,"l75":0.152,"l100":0.110},{"f":90,"g":0.041,"l50":0.200,"l75":0.162,"l100":0.125},
{"f":91,"g":0.024,"l50":0.183,"l75":0.142,"l100":0.110},{"f":92,"g":0.013,"l50":0.165,"l75":0.122,"l100":0.090},{"f":93,"g":-0.005,"l50":0.157,"l75":0.117,"l100":0.080},{"f":94,"g":0.003,"l50":0.157,"l75":0.115,"l100":0.082},{"f":95,"g":0.016,"l50":0.165,"l75":0.121,"l100":0.093}
    ],
    "p7": [
{"f":1,"g":-0.007,"l50":-0.006,"l75":-0.007,"l100":-0.007},{"f":2,"g":0.003,"l50":0.003,"l75":0.003,"l100":0.003},{"f":3,"g":0.008,"l50":0.008,"l75":0.008,"l100":0.009},{"f":4,"g":-0.002,"l50":-0.002,"l75":-0.002,"l100":-0.002},{"f":5,"g":-0.013,"l50":-0.012,"l75":-0.013,"l100":-0.013},
{"f":6,"g":-0.026,"l50":-0.025,"l75":-0.026,"l100":-0.027},{"f":7,"g":-0.021,"l50":-0.020,"l75":-0.021,"l100":-0.022},{"f":8,"g":-0.015,"l50":-0.014,"l75":-0.015,"l100":-0.016},{"f":9,"g":-0.008,"l50":-0.007,"l75":-0.008,"l100":-0.008},{"f":10,"g":0.001,"l50":0.000,"l75":0.001,"l100":0.000},
{"f":11,"g":-0.006,"l50":-0.002,"l75":-0.003,"l100":-0.005},{"f":12,"g":-0.019,"l50":-0.003,"l75":-0.012,"l100":-0.018},{"f":13,"g":-0.032,"l50":-0.006,"l75":-0.005,"l100":-0.028},{"f":14,"g":-0.020,"l50":-0.003,"l75":0.004,"l100":-0.018},{"f":15,"g":-0.009,"l50":-0.004,"l75":0.012,"l100":-0.004},
{"f":16,"g":0.001,"l50":0.000,"l75":0.020,"l100":-0.005},{"f":17,"g":0.008,"l50":0.003,"l75":0.022,"l100":-0.010},{"f":18,"g":-0.007,"l50":0.002,"l75":0.018,"l100":-0.024},{"f":19,"g":-0.015,"l50":0.001,"l75":0.008,"l100":-0.032},{"f":20,"g":0.000,"l50":0.003,"l75":0.016,"l100":-0.021},
{"f":21,"g":0.006,"l50":0.005,"l75":0.017,"l100":-0.020},{"f":22,"g":0.019,"l50":0.004,"l75":0.020,"l100":-0.019},{"f":23,"g":0.006,"l50":0.006,"l75":0.020,"l100":-0.018},{"f":24,"g":0.016,"l50":0.007,"l75":0.022,"l100":-0.010},{"f":25,"g":0.023,"l50":0.009,"l75":0.024,"l100":-0.006},
{"f":26,"g":0.036,"l50":0.010,"l75":0.026,"l100":-0.003},{"f":27,"g":0.050,"l50":0.010,"l75":0.029,"l100":-0.002},{"f":28,"g":0.064,"l50":0.009,"l75":0.031,"l100":-0.001},{"f":29,"g":0.078,"l50":0.008,"l75":0.030,"l100":0.001},{"f":30,"g":0.093,"l50":0.010,"l75":0.032,"l100":0.004},
{"f":31,"g":0.099,"l50":0.008,"l75":0.032,"l100":0.000},{"f":32,"g":0.090,"l50":0.008,"l75":0.031,"l100":0.000},{"f":33,"g":0.078,"l50":0.007,"l75":0.032,"l100":0.000},{"f":34,"g":0.064,"l50":0.008,"l75":0.031,"l100":0.000},{"f":35,"g":0.075,"l50":0.009,"l75":0.030,"l100":0.000},
{"f":36,"g":0.090,"l50":0.010,"l75":0.032,"l100":0.001},{"f":37,"g":0.078,"l50":0.009,"l75":0.031,"l100":0.000},{"f":38,"g":0.089,"l50":0.010,"l75":0.032,"l100":0.002},{"f":39,"g":0.078,"l50":0.011,"l75":0.033,"l100":0.002},{"f":40,"g":0.083,"l50":0.010,"l75":0.032,"l100":0.002},
{"f":41,"g":0.078,"l50":0.011,"l75":0.031,"l100":0.002},{"f":42,"g":0.072,"l50":0.014,"l75":0.033,"l100":0.003},{"f":43,"g":0.084,"l50":0.015,"l75":0.030,"l100":0.002},{"f":44,"g":0.072,"l50":0.013,"l75":0.031,"l100":0.002},{"f":45,"g":0.085,"l50":0.012,"l75":0.034,"l100":0.004},
{"f":46,"g":0.078,"l50":0.010,"l75":0.030,"l100":0.001},{"f":47,"g":0.066,"l50":0.009,"l75":0.028,"l100":-0.003},{"f":48,"g":0.053,"l50":0.010,"l75":0.025,"l100":-0.004},{"f":49,"g":0.043,"l50":0.011,"l75":0.024,"l100":-0.004},{"f":50,"g":0.056,"l50":0.015,"l75":0.029,"l100":0.000},
{"f":51,"g":0.049,"l50":0.013,"l75":0.026,"l100":-0.004},{"f":52,"g":0.058,"l50":0.012,"l75":0.025,"l100":-0.003},{"f":53,"g":0.043,"l50":0.011,"l75":0.024,"l100":-0.004},{"f":54,"g":0.033,"l50":0.010,"l75":0.022,"l100":-0.007},{"f":55,"g":0.043,"l50":0.010,"l75":0.021,"l100":-0.009},
{"f":56,"g":0.028,"l50":0.012,"l75":0.020,"l100":-0.011},{"f":57,"g":0.036,"l50":0.012,"l75":0.022,"l100":-0.005},{"f":58,"g":0.048,"l50":0.013,"l75":0.021,"l100":-0.010},{"f":59,"g":0.034,"l50":0.010,"l75":0.020,"l100":-0.008},{"f":60,"g":0.041,"l50":0.012,"l75":0.023,"l100":-0.005},
{"f":61,"g":0.050,"l50":0.011,"l75":0.024,"l100":-0.003},{"f":62,"g":0.055,"l50":0.012,"l75":0.022,"l100":0.000},{"f":63,"g":0.044,"l50":0.011,"l75":0.023,"l100":-0.006},{"f":64,"g":0.036,"l50":0.010,"l75":0.021,"l100":-0.007},{"f":65,"g":0.042,"l50":0.012,"l75":0.020,"l100":-0.009},
{"f":66,"g":0.029,"l50":0.010,"l75":0.018,"l100":-0.014},{"f":67,"g":0.034,"l50":0.009,"l75":0.015,"l100":-0.012},{"f":68,"g":0.022,"l50":0.008,"l75":0.014,"l100":-0.017},{"f":69,"g":0.010,"l50":0.006,"l75":0.010,"l100":-0.023},{"f":70,"g":0.017,"l50":0.005,"l75":0.012,"l100":-0.020},
{"f":71,"g":0.028,"l50":0.006,"l75":0.014,"l100":-0.014},{"f":72,"g":0.020,"l50":0.004,"l75":0.012,"l100":-0.017},{"f":73,"g":0.016,"l50":0.006,"l75":0.010,"l100":-0.021},{"f":74,"g":0.030,"l50":0.005,"l75":0.013,"l100":-0.015},{"f":75,"g":0.036,"l50":0.006,"l75":0.012,"l100":-0.010},
{"f":76,"g":0.042,"l50":0.007,"l75":0.012,"l100":-0.006},{"f":77,"g":0.035,"l50":0.005,"l75":0.012,"l100":-0.011},{"f":78,"g":0.027,"l50":0.004,"l75":0.009,"l100":-0.013},{"f":79,"g":0.013,"l50":0.003,"l75":0.006,"l100":-0.016},{"f":80,"g":-0.001,"l50":0.001,"l75":0.002,"l100":-0.018},
{"f":81,"g":-0.014,"l50":0.000,"l75":0.000,"l100":-0.020},{"f":82,"g":-0.028,"l50":0.002,"l75":-0.004,"l100":-0.026},{"f":83,"g":-0.035,"l50":0.001,"l75":-0.005,"l100":-0.026},{"f":84,"g":-0.043,"l50":-0.001,"l75":-0.005,"l100":-0.030},{"f":85,"g":-0.037,"l50":0.001,"l75":-0.003,"l100":-0.031},
{"f":86,"g":-0.050,"l50":-0.001,"l75":-0.010,"l100":-0.035},{"f":87,"g":-0.043,"l50":-0.003,"l75":-0.008,"l100":-0.038},{"f":88,"g":-0.056,"l50":-0.002,"l75":-0.007,"l100":-0.041},{"f":89,"g":-0.049,"l50":-0.001,"l75":-0.005,"l100":-0.043},{"f":90,"g":-0.056,"l50":0.000,"l75":-0.004,"l100":-0.045},
{"f":91,"g":-0.045,"l50":0.002,"l75":-0.006,"l100":-0.044},{"f":92,"g":-0.052,"l50":0.001,"l75":-0.003,"l100":-0.050},{"f":93,"g":-0.040,"l50":0.000,"l75":-0.002,"l100":-0.045},{"f":94,"g":-0.028,"l50":-0.001,"l75":0.000,"l100":-0.038},{"f":95,"g":-0.040,"l50":0.000,"l75":-0.003,"l100":-0.047}
    ],
    "p8": [
{"f":1,"g":-0.002,"l50":-0.002,"l75":-0.002,"l100":-0.002},{"f":2,"g":-0.013,"l50":-0.013,"l75":-0.013,"l100":-0.013},{"f":3,"g":-0.027,"l50":-0.027,"l75":-0.027,"l100":-0.027},{"f":4,"g":-0.040,"l50":-0.040,"l75":-0.040,"l100":-0.040},{"f":5,"g":-0.051,"l50":-0.051,"l75":-0.051,"l100":-0.051},
{"f":6,"g":-0.058,"l50":-0.057,"l75":-0.058,"l100":-0.057},{"f":7,"g":-0.052,"l50":-0.052,"l75":-0.052,"l100":-0.052},{"f":8,"g":-0.046,"l50":-0.046,"l75":-0.046,"l100":-0.046},{"f":9,"g":-0.033,"l50":-0.033,"l75":-0.033,"l100":-0.033},{"f":10,"g":-0.037,"l50":-0.037,"l75":-0.037,"l100":-0.038},
{"f":11,"g":-0.033,"l50":-0.033,"l75":-0.033,"l100":-0.033},{"f":12,"g":-0.021,"l50":-0.020,"l75":-0.020,"l100":-0.022},{"f":13,"g":-0.012,"l50":0.000,"l75":0.000,"l100":-0.010},{"f":14,"g":-0.003,"l50":0.012,"l75":0.017,"l100":-0.005},{"f":15,"g":-0.012,"l50":0.032,"l75":0.030,"l100":-0.010},
{"f":16,"g":-0.024,"l50":0.035,"l75":0.035,"l100":-0.010},{"f":17,"g":-0.031,"l50":0.028,"l75":0.038,"l100":0.005},{"f":18,"g":-0.021,"l50":0.010,"l75":0.048,"l100":0.025},{"f":19,"g":-0.013,"l50":0.015,"l75":0.047,"l100":0.052},{"f":20,"g":-0.008,"l50":0.017,"l75":0.045,"l100":0.062},
{"f":21,"g":-0.021,"l50":0.003,"l75":0.030,"l100":0.057},{"f":22,"g":-0.037,"l50":-0.005,"l75":0.020,"l100":0.032},{"f":23,"g":-0.049,"l50":-0.010,"l75":0.010,"l100":0.000},{"f":24,"g":-0.053,"l50":-0.018,"l75":0.008,"l100":-0.028},{"f":25,"g":-0.065,"l50":-0.028,"l75":-0.005,"l100":-0.045},
{"f":26,"g":-0.078,"l50":-0.045,"l75":-0.020,"l100":-0.050},{"f":27,"g":-0.091,"l50":-0.058,"l75":-0.035,"l100":-0.048},{"f":28,"g":-0.081,"l50":-0.052,"l75":-0.030,"l100":-0.035},{"f":29,"g":-0.088,"l50":-0.065,"l75":-0.040,"l100":-0.040},{"f":30,"g":-0.082,"l50":-0.060,"l75":-0.038,"l100":-0.045},
{"f":31,"g":-0.076,"l50":-0.055,"l75":-0.035,"l100":-0.035},{"f":32,"g":-0.062,"l50":-0.045,"l75":-0.020,"l100":-0.030},{"f":33,"g":-0.072,"l50":-0.050,"l75":-0.022,"l100":-0.030},{"f":34,"g":-0.085,"l50":-0.057,"l75":-0.030,"l100":-0.040},{"f":35,"g":-0.079,"l50":-0.052,"l75":-0.033,"l100":-0.035},
{"f":36,"g":-0.073,"l50":-0.060,"l75":-0.028,"l100":-0.038},{"f":37,"g":-0.089,"l50":-0.060,"l75":-0.040,"l100":-0.042},{"f":38,"g":-0.098,"l50":-0.065,"l75":-0.048,"l100":-0.050},{"f":39,"g":-0.090,"l50":-0.072,"l75":-0.040,"l100":-0.055},{"f":40,"g":-0.094,"l50":-0.065,"l75":-0.045,"l100":-0.048},
{"f":41,"g":-0.103,"l50":-0.075,"l75":-0.055,"l100":-0.060},{"f":42,"g":-0.114,"l50":-0.078,"l75":-0.060,"l100":-0.063},{"f":43,"g":-0.119,"l50":-0.090,"l75":-0.065,"l100":-0.068},{"f":44,"g":-0.109,"l50":-0.092,"l75":-0.055,"l100":-0.060},{"f":45,"g":-0.117,"l50":-0.093,"l75":-0.062,"l100":-0.070},
{"f":46,"g":-0.101,"l50":-0.082,"l75":-0.050,"l100":-0.058},{"f":47,"g":-0.090,"l50":-0.068,"l75":-0.037,"l100":-0.045},{"f":48,"g":-0.099,"l50":-0.078,"l75":-0.045,"l100":-0.052},{"f":49,"g":-0.108,"l50":-0.080,"l75":-0.048,"l100":-0.055},{"f":50,"g":-0.121,"l50":-0.088,"l75":-0.058,"l100":-0.067},
{"f":51,"g":-0.108,"l50":-0.075,"l75":-0.048,"l100":-0.058},{"f":52,"g":-0.099,"l50":-0.068,"l75":-0.040,"l100":-0.048},{"f":53,"g":-0.111,"l50":-0.060,"l75":-0.047,"l100":-0.053},{"f":54,"g":-0.100,"l50":-0.055,"l75":-0.040,"l100":-0.045},{"f":55,"g":-0.084,"l50":-0.055,"l75":-0.026,"l100":-0.038},
{"f":56,"g":-0.092,"l50":-0.060,"l75":-0.030,"l100":-0.040},{"f":57,"g":-0.099,"l50":-0.058,"l75":-0.035,"l100":-0.045},{"f":58,"g":-0.108,"l50":-0.065,"l75":-0.043,"l100":-0.050},{"f":59,"g":-0.099,"l50":-0.060,"l75":-0.040,"l100":-0.045},{"f":60,"g":-0.109,"l50":-0.062,"l75":-0.036,"l100":-0.048},
{"f":61,"g":-0.099,"l50":-0.065,"l75":-0.040,"l100":-0.050},{"f":62,"g":-0.092,"l50":-0.058,"l75":-0.035,"l100":-0.043},{"f":63,"g":-0.105,"l50":-0.065,"l75":-0.040,"l100":-0.050},{"f":64,"g":-0.099,"l50":-0.055,"l75":-0.033,"l100":-0.040},{"f":65,"g":-0.089,"l50":-0.050,"l75":-0.028,"l100":-0.035},
{"f":66,"g":-0.074,"l50":-0.045,"l75":-0.015,"l100":-0.028},{"f":67,"g":-0.084,"l50":-0.048,"l75":-0.020,"l100":-0.030},{"f":68,"g":-0.071,"l50":-0.040,"l75":-0.010,"l100":-0.020},{"f":69,"g":-0.065,"l50":-0.035,"l75":-0.005,"l100":-0.015},{"f":70,"g":-0.055,"l50":-0.025,"l75":0.000,"l100":-0.010},
{"f":71,"g":-0.073,"l50":-0.030,"l75":-0.010,"l100":-0.020},{"f":72,"g":-0.079,"l50":-0.035,"l75":-0.018,"l100":-0.030},{"f":73,"g":-0.071,"l50":-0.032,"l75":-0.010,"l100":-0.025},{"f":74,"g":-0.060,"l50":-0.025,"l75":-0.002,"l100":-0.018},{"f":75,"g":-0.052,"l50":-0.020,"l75":0.005,"l100":-0.010},
{"f":76,"g":-0.041,"l50":-0.015,"l75":0.010,"l100":-0.005},{"f":77,"g":-0.034,"l50":-0.010,"l75":0.018,"l100":-0.002},{"f":78,"g":-0.026,"l50":-0.005,"l75":0.025,"l100":0.005},{"f":79,"g":-0.012,"l50":0.010,"l75":0.036,"l100":0.013},{"f":80,"g":-0.026,"l50":0.005,"l75":0.027,"l100":0.000},
{"f":81,"g":-0.040,"l50":-0.005,"l75":0.018,"l100":-0.008},{"f":82,"g":-0.046,"l50":0.000,"l75":0.015,"l100":-0.015},{"f":83,"g":-0.041,"l50":0.000,"l75":0.020,"l100":-0.008},{"f":84,"g":-0.049,"l50":-0.003,"l75":0.010,"l100":-0.015},{"f":85,"g":-0.037,"l50":0.000,"l75":0.020,"l100":-0.005},
{"f":86,"g":-0.027,"l50":0.010,"l75":0.032,"l100":-0.003},{"f":87,"g":-0.035,"l50":0.005,"l75":0.025,"l100":-0.008},{"f":88,"g":-0.045,"l50":-0.005,"l75":0.018,"l100":-0.010},{"f":89,"g":-0.052,"l50":-0.010,"l75":0.013,"l100":-0.012},{"f":90,"g":-0.062,"l50":-0.015,"l75":0.002,"l100":-0.015},
{"f":91,"g":-0.073,"l50":-0.025,"l75":-0.008,"l100":-0.018},{"f":92,"g":-0.066,"l50":-0.018,"l75":0.000,"l100":0.005},{"f":93,"g":-0.056,"l50":-0.012,"l75":0.005,"l100":0.030},{"f":94,"g":-0.046,"l50":-0.008,"l75":0.012,"l100":0.057},{"f":95,"g":-0.058,"l50":-0.013,"l75":0.006,"l100":0.058}
    ],
    "p9": [
{"f":1,"g":-0.041,"l50":-0.041,"l75":-0.041,"l100":-0.040},{"f":2,"g":-0.047,"l50":-0.047,"l75":-0.047,"l100":-0.047},{"f":3,"g":-0.053,"l50":-0.053,"l75":-0.053,"l100":-0.053},{"f":4,"g":-0.037,"l50":-0.037,"l75":-0.037,"l100":-0.037},{"f":5,"g":-0.056,"l50":-0.056,"l75":-0.056,"l100":-0.056},
{"f":6,"g":-0.073,"l50":-0.072,"l75":-0.073,"l100":-0.073},{"f":7,"g":-0.064,"l50":-0.063,"l75":-0.064,"l100":-0.064},{"f":8,"g":-0.054,"l50":-0.050,"l75":-0.054,"l100":-0.053},{"f":9,"g":-0.063,"l50":-0.062,"l75":-0.063,"l100":-0.063},{"f":10,"g":-0.077,"l50":-0.076,"l75":-0.077,"l100":-0.078},
{"f":11,"g":-0.059,"l50":-0.066,"l75":-0.059,"l100":-0.060},{"f":12,"g":-0.046,"l50":-0.066,"l75":-0.046,"l100":-0.048},{"f":13,"g":-0.055,"l50":-0.066,"l75":-0.083,"l100":-0.060},{"f":14,"g":-0.066,"l50":-0.068,"l75":-0.094,"l100":-0.065},{"f":15,"g":-0.080,"l50":-0.085,"l75":-0.109,"l100":-0.080},
{"f":16,"g":-0.093,"l50":-0.090,"l75":-0.122,"l100":-0.087},{"f":17,"g":-0.100,"l50":-0.100,"l75":-0.127,"l100":-0.097},{"f":18,"g":-0.086,"l50":-0.093,"l75":-0.122,"l100":-0.078},{"f":19,"g":-0.104,"l50":-0.120,"l75":-0.139,"l100":-0.100},{"f":20,"g":-0.100,"l50":-0.100,"l75":-0.126,"l100":-0.095},
{"f":21,"g":-0.109,"l50":-0.100,"l75":-0.134,"l100":-0.100},{"f":22,"g":-0.097,"l50":-0.088,"l75":-0.130,"l100":-0.075},{"f":23,"g":-0.112,"l50":-0.107,"l75":-0.140,"l100":-0.100},{"f":24,"g":-0.122,"l50":-0.112,"l75":-0.140,"l100":-0.107},{"f":25,"g":-0.130,"l50":-0.120,"l75":-0.145,"l100":-0.110},
{"f":26,"g":-0.147,"l50":-0.130,"l75":-0.150,"l100":-0.120},{"f":27,"g":-0.138,"l50":-0.108,"l75":-0.130,"l100":-0.100},{"f":28,"g":-0.150,"l50":-0.101,"l75":-0.127,"l100":-0.100},{"f":29,"g":-0.167,"l50":-0.108,"l75":-0.133,"l100":-0.105},{"f":30,"g":-0.162,"l50":-0.090,"l75":-0.117,"l100":-0.088},
{"f":31,"g":-0.149,"l50":-0.068,"l75":-0.097,"l100":-0.068},{"f":32,"g":-0.140,"l50":-0.067,"l75":-0.097,"l100":-0.067},{"f":33,"g":-0.122,"l50":-0.063,"l75":-0.090,"l100":-0.060},{"f":34,"g":-0.105,"l50":-0.060,"l75":-0.086,"l100":-0.056},{"f":35,"g":-0.120,"l50":-0.063,"l75":-0.088,"l100":-0.062},
{"f":36,"g":-0.128,"l50":-0.065,"l75":-0.085,"l100":-0.056},{"f":37,"g":-0.146,"l50":-0.088,"l75":-0.113,"l100":-0.073},{"f":38,"g":-0.141,"l50":-0.080,"l75":-0.100,"l100":-0.075},{"f":39,"g":-0.156,"l50":-0.100,"l75":-0.124,"l100":-0.095},{"f":40,"g":-0.173,"l50":-0.112,"l75":-0.136,"l100":-0.108},
{"f":41,"g":-0.167,"l50":-0.112,"l75":-0.137,"l100":-0.108},{"f":42,"g":-0.185,"l50":-0.135,"l75":-0.157,"l100":-0.132},{"f":43,"g":-0.165,"l50":-0.135,"l75":-0.155,"l100":-0.104},{"f":44,"g":-0.185,"l50":-0.135,"l75":-0.155,"l100":-0.130},{"f":45,"g":-0.203,"l50":-0.143,"l75":-0.166,"l100":-0.140},
{"f":46,"g":-0.216,"l50":-0.160,"l75":-0.182,"l100":-0.150},{"f":47,"g":-0.235,"l50":-0.180,"l75":-0.203,"l100":-0.178},{"f":48,"g":-0.224,"l50":-0.185,"l75":-0.205,"l100":-0.180},{"f":49,"g":-0.218,"l50":-0.190,"l75":-0.208,"l100":-0.182},{"f":50,"g":-0.237,"l50":-0.205,"l75":-0.220,"l100":-0.193},
{"f":51,"g":-0.228,"l50":-0.200,"l75":-0.213,"l100":-0.192},{"f":52,"g":-0.240,"l50":-0.202,"l75":-0.219,"l100":-0.200},{"f":53,"g":-0.232,"l50":-0.208,"l75":-0.223,"l100":-0.196},{"f":54,"g":-0.216,"l50":-0.192,"l75":-0.212,"l100":-0.185},{"f":55,"g":-0.203,"l50":-0.175,"l75":-0.192,"l100":-0.163},
{"f":56,"g":-0.194,"l50":-0.178,"l75":-0.197,"l100":-0.163},{"f":57,"g":-0.212,"l50":-0.183,"l75":-0.200,"l100":-0.168},{"f":58,"g":-0.201,"l50":-0.175,"l75":-0.190,"l100":-0.160},{"f":59,"g":-0.207,"l50":-0.170,"l75":-0.187,"l100":-0.155},{"f":60,"g":-0.192,"l50":-0.165,"l75":-0.183,"l100":-0.155},
{"f":61,"g":-0.197,"l50":-0.158,"l75":-0.175,"l100":-0.157},{"f":62,"g":-0.183,"l50":-0.148,"l75":-0.163,"l100":-0.140},{"f":63,"g":-0.192,"l50":-0.152,"l75":-0.170,"l100":-0.145},{"f":64,"g":-0.179,"l50":-0.155,"l75":-0.173,"l100":-0.147},{"f":65,"g":-0.189,"l50":-0.165,"l75":-0.182,"l100":-0.153},
{"f":66,"g":-0.195,"l50":-0.160,"l75":-0.178,"l100":-0.153},{"f":67,"g":-0.185,"l50":-0.167,"l75":-0.183,"l100":-0.155},{"f":68,"g":-0.192,"l50":-0.165,"l75":-0.180,"l100":-0.148},{"f":69,"g":-0.175,"l50":-0.158,"l75":-0.172,"l100":-0.150},{"f":70,"g":-0.179,"l50":-0.163,"l75":-0.178,"l100":-0.155},
{"f":71,"g":-0.188,"l50":-0.172,"l75":-0.185,"l100":-0.145},{"f":72,"g":-0.168,"l50":-0.160,"l75":-0.170,"l100":-0.138},{"f":73,"g":-0.149,"l50":-0.130,"l75":-0.145,"l100":-0.120},{"f":74,"g":-0.143,"l50":-0.125,"l75":-0.135,"l100":-0.110},{"f":75,"g":-0.149,"l50":-0.125,"l75":-0.140,"l100":-0.113},
{"f":76,"g":-0.136,"l50":-0.110,"l75":-0.125,"l100":-0.100},{"f":77,"g":-0.115,"l50":-0.090,"l75":-0.103,"l100":-0.097},{"f":78,"g":-0.128,"l50":-0.100,"l75":-0.120,"l100":-0.097},{"f":79,"g":-0.138,"l50":-0.115,"l75":-0.135,"l100":-0.100},{"f":80,"g":-0.122,"l50":-0.110,"l75":-0.130,"l100":-0.112},
{"f":81,"g":-0.115,"l50":-0.115,"l75":-0.140,"l100":-0.115},{"f":82,"g":-0.128,"l50":-0.125,"l75":-0.162,"l100":-0.128},{"f":83,"g":-0.112,"l50":-0.115,"l75":-0.148,"l100":-0.110},{"f":84,"g":-0.105,"l50":-0.110,"l75":-0.150,"l100":-0.105},{"f":85,"g":-0.121,"l50":-0.130,"l75":-0.160,"l100":-0.125},
{"f":86,"g":-0.114,"l50":-0.160,"l75":-0.160,"l100":-0.114},{"f":87,"g":-0.133,"l50":-0.170,"l75":-0.173,"l100":-0.132},{"f":88,"g":-0.148,"l50":-0.205,"l75":-0.200,"l100":-0.147},{"f":89,"g":-0.137,"l50":-0.185,"l75":-0.186,"l100":-0.140},{"f":90,"g":-0.146,"l50":-0.207,"l75":-0.200,"l100":-0.153},
{"f":91,"g":-0.140,"l50":-0.190,"l75":-0.188,"l100":-0.136},{"f":92,"g":-0.129,"l50":-0.185,"l75":-0.180,"l100":-0.130},{"f":93,"g":-0.119,"l50":-0.165,"l75":-0.165,"l100":-0.120},{"f":94,"g":-0.112,"l50":-0.143,"l75":-0.148,"l100":-0.115},{"f":95,"g":-0.119,"l50":-0.160,"l75":-0.160,"l100":-0.127}
    ]
  },
  "columns": 3,
  "spacing": {"row": 67, "column": 103},
  "bounds": "flush",
  "resolve": {"scale": {"x": "independent", "y": "independent", "color": "independent", "shape": "independent"}, "legend": {"color": "independent", "shape": "independent"}},
  "concat": [
    {
      "width": 330, "height": 261, "title": "tx, the translation in X direction",
      "layer": [
        {"data": {"name": "series"}, "transform": [{"filter": "false"}], "mark": "point", "encoding": {
          "color": {"field": "s", "type": "nominal", "scale": {"domain": ["2CamAG", "2CamL", "1CamL50", "1CamL75", "1CamL100", "ground truth"]}, "legend": {"orient": "none", "legendX": 4, "legendY": 5, "title": null}},
          "shape": {"field": "s", "type": "nominal", "scale": {"domain": ["2CamAG", "2CamL", "1CamL50", "1CamL75", "1CamL100", "ground truth"]}, "legend": {"orient": "none", "legendX": 4, "legendY": 5, "title": null}}}},
        {"data": {"name": "p1"}, "layer": [
          {"mark": "point", "encoding": {"x": {"field": "f", "type": "quantitative", "title": "frame no.", "scale": {"domain": [0, 100], "nice": false}}, "y": {"field": "g", "type": "quantitative", "title": "meters", "scale": {"domain": [0.05, 0.3], "nice": false, "zero": false}, "axis": {"values": [0.05, 0.1, 0.15, 0.2, 0.25, 0.3], "tickCount": 20, "labelOverlap": false, "format": ".2~f", "labelExpr": "replace(datum.label, '\u2212', '-')", "titleX": -30, "titleY": 130.5, "titleBaseline": "bottom"}}, "color": {"datum": "2CamAG", "type": "nominal", "legend": null}, "shape": {"datum": "2CamAG", "type": "nominal", "legend": null}}},
          {"mark": {"type": "point", "strokeWidth": 1.3}, "encoding": {"x": {"field": "f", "type": "quantitative"}, "y": {"field": "g", "type": "quantitative", "title": "meters"}, "color": {"datum": "2CamL", "type": "nominal", "legend": null}, "shape": {"datum": "2CamL", "type": "nominal", "legend": null}}},
          {"mark": "point", "encoding": {"x": {"field": "f", "type": "quantitative"}, "y": {"field": "l50", "type": "quantitative", "title": "meters"}, "color": {"datum": "1CamL50", "type": "nominal", "legend": null}, "shape": {"datum": "1CamL50", "type": "nominal", "legend": null}}},
          {"mark": "point", "encoding": {"x": {"field": "f", "type": "quantitative"}, "y": {"field": "l75", "type": "quantitative", "title": "meters"}, "color": {"datum": "1CamL75", "type": "nominal", "legend": null}, "shape": {"datum": "1CamL75", "type": "nominal", "legend": null}}},
          {"mark": {"type": "point", "strokeWidth": 1.8}, "encoding": {"x": {"field": "f", "type": "quantitative"}, "y": {"field": "l100", "type": "quantitative", "title": "meters"}, "color": {"datum": "1CamL100", "type": "nominal", "legend": null}, "shape": {"datum": "1CamL100", "type": "nominal", "legend": null}}},
          {"mark": "point", "encoding": {"x": {"field": "f", "type": "quantitative"}, "y": {"field": "g", "type": "quantitative", "title": "meters"}, "color": {"datum": "ground truth", "type": "nominal", "legend": null}, "shape": {"datum": "ground truth", "type": "nominal", "legend": null}}}
        ]}
      ]
    },
    {
      "width": 330, "height": 261, "title": "tz,the translation in Z direction",
      "layer": [
        {"data": {"name": "series"}, "transform": [{"filter": "false"}], "mark": "point", "encoding": {
          "color": {"field": "s", "type": "nominal", "scale": {"domain": ["2CamAG", "2CamL", "1CamL50", "1CamL75", "1CamL100", "ground truth"]}, "legend": {"orient": "none", "legendX": 231, "legendY": 3, "title": null}},
          "shape": {"field": "s", "type": "nominal", "scale": {"domain": ["2CamAG", "2CamL", "1CamL50", "1CamL75", "1CamL100", "ground truth"]}, "legend": {"orient": "none", "legendX": 231, "legendY": 3, "title": null}}}},
        {"data": {"name": "p2"}, "layer": [
          {"mark": "point", "encoding": {"x": {"field": "f", "type": "quantitative", "title": "frame no.", "scale": {"domain": [0, 100], "nice": false}}, "y": {"field": "g", "type": "quantitative", "title": "meters", "scale": {"domain": [-0.25, 0.1], "nice": false, "zero": false}, "axis": {"values": [-0.25, -0.2, -0.15, -0.1, -0.05, 0, 0.05, 0.1], "tickCount": 20, "labelOverlap": false, "format": ".2~f", "labelExpr": "replace(datum.label, '\u2212', '-')", "titleX": -30, "titleY": 130.5, "titleBaseline": "bottom"}}, "color": {"datum": "2CamAG", "type": "nominal", "legend": null}, "shape": {"datum": "2CamAG", "type": "nominal", "legend": null}}},
          {"mark": {"type": "point", "strokeWidth": 1.3}, "encoding": {"x": {"field": "f", "type": "quantitative"}, "y": {"field": "g", "type": "quantitative", "title": "meters"}, "color": {"datum": "2CamL", "type": "nominal", "legend": null}, "shape": {"datum": "2CamL", "type": "nominal", "legend": null}}},
          {"mark": "point", "encoding": {"x": {"field": "f", "type": "quantitative"}, "y": {"field": "l50", "type": "quantitative", "title": "meters"}, "color": {"datum": "1CamL50", "type": "nominal", "legend": null}, "shape": {"datum": "1CamL50", "type": "nominal", "legend": null}}},
          {"mark": "point", "encoding": {"x": {"field": "f", "type": "quantitative"}, "y": {"field": "l75", "type": "quantitative", "title": "meters"}, "color": {"datum": "1CamL75", "type": "nominal", "legend": null}, "shape": {"datum": "1CamL75", "type": "nominal", "legend": null}}},
          {"mark": {"type": "point", "strokeWidth": 1.8}, "encoding": {"x": {"field": "f", "type": "quantitative"}, "y": {"field": "l100", "type": "quantitative", "title": "meters"}, "color": {"datum": "1CamL100", "type": "nominal", "legend": null}, "shape": {"datum": "1CamL100", "type": "nominal", "legend": null}}},
          {"mark": "point", "encoding": {"x": {"field": "f", "type": "quantitative"}, "y": {"field": "g", "type": "quantitative", "title": "meters"}, "color": {"datum": "ground truth", "type": "nominal", "legend": null}, "shape": {"datum": "ground truth", "type": "nominal", "legend": null}}}
        ]}
      ]
    },
    {
      "width": 330, "height": 261, "title": "Beta, the rotation angle around Y axis",
      "layer": [
        {"data": {"name": "series"}, "transform": [{"filter": "false"}], "mark": "point", "encoding": {
          "color": {"field": "s", "type": "nominal", "scale": {"domain": ["2CamAG", "2CamL", "1CamL50", "1CamL75", "1CamL100", "ground truth"]}, "legend": {"orient": "none", "legendX": 226, "legendY": 167, "title": null}},
          "shape": {"field": "s", "type": "nominal", "scale": {"domain": ["2CamAG", "2CamL", "1CamL50", "1CamL75", "1CamL100", "ground truth"]}, "legend": {"orient": "none", "legendX": 226, "legendY": 167, "title": null}}}},
        {"data": {"name": "p3"}, "layer": [
          {"mark": "point", "encoding": {"x": {"field": "f", "type": "quantitative", "title": "frame no.", "scale": {"domain": [0, 100], "nice": false}}, "y": {"field": "g", "type": "quantitative", "title": "radians", "scale": {"domain": [-0.05, 0.2], "nice": false, "zero": false}, "axis": {"values": [-0.05, 0, 0.05, 0.1, 0.15, 0.2], "tickCount": 20, "labelOverlap": false, "format": ".2~f", "labelExpr": "replace(datum.label, '\u2212', '-')", "titleX": -30, "titleY": 130.5, "titleBaseline": "bottom"}}, "color": {"datum": "2CamAG", "type": "nominal", "legend": null}, "shape": {"datum": "2CamAG", "type": "nominal", "legend": null}}},
          {"mark": {"type": "point", "strokeWidth": 1.3}, "encoding": {"x": {"field": "f", "type": "quantitative"}, "y": {"field": "g", "type": "quantitative", "title": "radians"}, "color": {"datum": "2CamL", "type": "nominal", "legend": null}, "shape": {"datum": "2CamL", "type": "nominal", "legend": null}}},
          {"mark": "point", "encoding": {"x": {"field": "f", "type": "quantitative"}, "y": {"field": "l50", "type": "quantitative", "title": "radians"}, "color": {"datum": "1CamL50", "type": "nominal", "legend": null}, "shape": {"datum": "1CamL50", "type": "nominal", "legend": null}}},
          {"mark": "point", "encoding": {"x": {"field": "f", "type": "quantitative"}, "y": {"field": "l75", "type": "quantitative", "title": "radians"}, "color": {"datum": "1CamL75", "type": "nominal", "legend": null}, "shape": {"datum": "1CamL75", "type": "nominal", "legend": null}}},
          {"mark": {"type": "point", "strokeWidth": 1.8}, "encoding": {"x": {"field": "f", "type": "quantitative"}, "y": {"field": "l100", "type": "quantitative", "title": "radians"}, "color": {"datum": "1CamL100", "type": "nominal", "legend": null}, "shape": {"datum": "1CamL100", "type": "nominal", "legend": null}}},
          {"mark": "point", "encoding": {"x": {"field": "f", "type": "quantitative"}, "y": {"field": "g", "type": "quantitative", "title": "radians"}, "color": {"datum": "ground truth", "type": "nominal", "legend": null}, "shape": {"datum": "ground truth", "type": "nominal", "legend": null}}}
        ]}
      ]
    },
    {
      "width": 330, "height": 261, "title": "tx, the translation in X direction",
      "layer": [
        {"data": {"name": "series"}, "transform": [{"filter": "false"}], "mark": "point", "encoding": {
          "color": {"field": "s", "type": "nominal", "scale": {"domain": ["2CamAG", "2CamL", "1CamL50", "1CamL75", "1CamL100", "ground truth"]}, "legend": {"orient": "none", "legendX": 232, "legendY": 170, "title": null}},
          "shape": {"field": "s", "type": "nominal", "scale": {"domain": ["2CamAG", "2CamL", "1CamL50", "1CamL75", "1CamL100", "ground truth"]}, "legend": {"orient": "none", "legendX": 232, "legendY": 170, "title": null}}}},
        {"data": {"name": "p4"}, "layer": [
          {"mark": "point", "encoding": {"x": {"field": "f", "type": "quantitative", "title": "frame no.", "scale": {"domain": [0, 100], "nice": false}}, "y": {"field": "g", "type": "quantitative", "title": "meters", "scale": {"domain": [0, 0.25], "nice": false, "zero": false}, "axis": {"values": [0, 0.05, 0.1, 0.15, 0.2, 0.25], "tickCount": 20, "labelOverlap": false, "format": ".2~f", "labelExpr": "replace(datum.label, '\u2212', '-')", "titleX": -30, "titleY": 130.5, "titleBaseline": "bottom"}}, "color": {"datum": "2CamAG", "type": "nominal", "legend": null}, "shape": {"datum": "2CamAG", "type": "nominal", "legend": null}}},
          {"mark": {"type": "point", "strokeWidth": 1.3}, "encoding": {"x": {"field": "f", "type": "quantitative"}, "y": {"field": "g", "type": "quantitative", "title": "meters"}, "color": {"datum": "2CamL", "type": "nominal", "legend": null}, "shape": {"datum": "2CamL", "type": "nominal", "legend": null}}},
          {"mark": "point", "encoding": {"x": {"field": "f", "type": "quantitative"}, "y": {"field": "l50", "type": "quantitative", "title": "meters"}, "color": {"datum": "1CamL50", "type": "nominal", "legend": null}, "shape": {"datum": "1CamL50", "type": "nominal", "legend": null}}},
          {"mark": "point", "encoding": {"x": {"field": "f", "type": "quantitative"}, "y": {"field": "l75", "type": "quantitative", "title": "meters"}, "color": {"datum": "1CamL75", "type": "nominal", "legend": null}, "shape": {"datum": "1CamL75", "type": "nominal", "legend": null}}},
          {"mark": {"type": "point", "strokeWidth": 1.8}, "encoding": {"x": {"field": "f", "type": "quantitative"}, "y": {"field": "l100", "type": "quantitative", "title": "meters"}, "color": {"datum": "1CamL100", "type": "nominal", "legend": null}, "shape": {"datum": "1CamL100", "type": "nominal", "legend": null}}},
          {"mark": "point", "encoding": {"x": {"field": "f", "type": "quantitative"}, "y": {"field": "g", "type": "quantitative", "title": "meters"}, "color": {"datum": "ground truth", "type": "nominal", "legend": null}, "shape": {"datum": "ground truth", "type": "nominal", "legend": null}}}
        ]}
      ]
    },
    {
      "width": 330, "height": 261, "title": "tz,the translation in Z direction",
      "layer": [
        {"data": {"name": "series"}, "transform": [{"filter": "false"}], "mark": "point", "encoding": {
          "color": {"field": "s", "type": "nominal", "scale": {"domain": ["2CamAG", "2CamL", "1CamL50", "1CamL75", "1CamL100", "ground truth"]}, "legend": {"orient": "none", "legendX": 227, "legendY": 167, "title": null}},
          "shape": {"field": "s", "type": "nominal", "scale": {"domain": ["2CamAG", "2CamL", "1CamL50", "1CamL75", "1CamL100", "ground truth"]}, "legend": {"orient": "none", "legendX": 227, "legendY": 167, "title": null}}}},
        {"data": {"name": "p5"}, "layer": [
          {"mark": "point", "encoding": {"x": {"field": "f", "type": "quantitative", "title": "frame no.", "scale": {"domain": [0, 100], "nice": false}}, "y": {"field": "g", "type": "quantitative", "title": "meters", "scale": {"domain": [0, 0.25], "nice": false, "zero": false}, "axis": {"values": [0, 0.05, 0.1, 0.15, 0.2, 0.25], "tickCount": 20, "labelOverlap": false, "format": ".2~f", "labelExpr": "replace(datum.label, '\u2212', '-')", "titleX": -30, "titleY": 130.5, "titleBaseline": "bottom"}}, "color": {"datum": "2CamAG", "type": "nominal", "legend": null}, "shape": {"datum": "2CamAG", "type": "nominal", "legend": null}}},
          {"mark": {"type": "point", "strokeWidth": 1.3}, "encoding": {"x": {"field": "f", "type": "quantitative"}, "y": {"field": "g", "type": "quantitative", "title": "meters"}, "color": {"datum": "2CamL", "type": "nominal", "legend": null}, "shape": {"datum": "2CamL", "type": "nominal", "legend": null}}},
          {"mark": "point", "encoding": {"x": {"field": "f", "type": "quantitative"}, "y": {"field": "l50", "type": "quantitative", "title": "meters"}, "color": {"datum": "1CamL50", "type": "nominal", "legend": null}, "shape": {"datum": "1CamL50", "type": "nominal", "legend": null}}},
          {"mark": "point", "encoding": {"x": {"field": "f", "type": "quantitative"}, "y": {"field": "l75", "type": "quantitative", "title": "meters"}, "color": {"datum": "1CamL75", "type": "nominal", "legend": null}, "shape": {"datum": "1CamL75", "type": "nominal", "legend": null}}},
          {"mark": {"type": "point", "strokeWidth": 1.8}, "encoding": {"x": {"field": "f", "type": "quantitative"}, "y": {"field": "l100", "type": "quantitative", "title": "meters"}, "color": {"datum": "1CamL100", "type": "nominal", "legend": null}, "shape": {"datum": "1CamL100", "type": "nominal", "legend": null}}},
          {"mark": "point", "encoding": {"x": {"field": "f", "type": "quantitative"}, "y": {"field": "g", "type": "quantitative", "title": "meters"}, "color": {"datum": "ground truth", "type": "nominal", "legend": null}, "shape": {"datum": "ground truth", "type": "nominal", "legend": null}}}
        ]}
      ]
    },
    {
      "width": 330, "height": 261, "title": {"text": "Beta, the rotation angle around Y axis", "offset": -17},
      "layer": [
        {"data": {"name": "series"}, "transform": [{"filter": "false"}], "mark": "point", "encoding": {
          "color": {"field": "s", "type": "nominal", "scale": {"domain": ["2CamAG", "2CamL", "1CamL50", "1CamL75", "1CamL100", "ground truth"]}, "legend": {"orient": "none", "legendX": 262, "legendY": -23, "title": null}},
          "shape": {"field": "s", "type": "nominal", "scale": {"domain": ["2CamAG", "2CamL", "1CamL50", "1CamL75", "1CamL100", "ground truth"]}, "legend": {"orient": "none", "legendX": 262, "legendY": -23, "title": null}}}},
        {"data": {"name": "p6"}, "layer": [
          {"mark": "point", "encoding": {"x": {"field": "f", "type": "quantitative", "title": "frame no.", "scale": {"domain": [0, 100], "nice": false}}, "y": {"field": "g", "type": "quantitative", "title": "radians", "scale": {"domain": [-0.05, 0.3], "nice": false, "zero": false}, "axis": {"values": [-0.05, 0, 0.05, 0.1, 0.15, 0.2, 0.25, 0.3], "tickCount": 20, "labelOverlap": false, "format": ".2~f", "labelExpr": "replace(datum.label, '\u2212', '-')", "titleX": -30, "titleY": 130.5, "titleBaseline": "bottom"}}, "color": {"datum": "2CamAG", "type": "nominal", "legend": null}, "shape": {"datum": "2CamAG", "type": "nominal", "legend": null}}},
          {"mark": {"type": "point", "strokeWidth": 1.3}, "encoding": {"x": {"field": "f", "type": "quantitative"}, "y": {"field": "g", "type": "quantitative", "title": "radians"}, "color": {"datum": "2CamL", "type": "nominal", "legend": null}, "shape": {"datum": "2CamL", "type": "nominal", "legend": null}}},
          {"mark": "point", "encoding": {"x": {"field": "f", "type": "quantitative"}, "y": {"field": "l50", "type": "quantitative", "title": "radians"}, "color": {"datum": "1CamL50", "type": "nominal", "legend": null}, "shape": {"datum": "1CamL50", "type": "nominal", "legend": null}}},
          {"mark": "point", "encoding": {"x": {"field": "f", "type": "quantitative"}, "y": {"field": "l75", "type": "quantitative", "title": "radians"}, "color": {"datum": "1CamL75", "type": "nominal", "legend": null}, "shape": {"datum": "1CamL75", "type": "nominal", "legend": null}}},
          {"mark": {"type": "point", "strokeWidth": 1.8}, "encoding": {"x": {"field": "f", "type": "quantitative"}, "y": {"field": "l100", "type": "quantitative", "title": "radians"}, "color": {"datum": "1CamL100", "type": "nominal", "legend": null}, "shape": {"datum": "1CamL100", "type": "nominal", "legend": null}}},
          {"mark": "point", "encoding": {"x": {"field": "f", "type": "quantitative"}, "y": {"field": "g", "type": "quantitative", "title": "radians"}, "color": {"datum": "ground truth", "type": "nominal", "legend": null}, "shape": {"datum": "ground truth", "type": "nominal", "legend": null}}}
        ]}
      ]
    },
    {
      "width": 330, "height": 261, "title": "tx, the translation in X direction",
      "layer": [
        {"data": {"name": "series"}, "transform": [{"filter": "false"}], "mark": "point", "encoding": {
          "color": {"field": "s", "type": "nominal", "scale": {"domain": ["2CamAG", "2CamL", "1CamL50", "1CamL75", "1CamL100", "ground truth"]}, "legend": {"orient": "none", "legendX": 230, "legendY": 4, "title": null}},
          "shape": {"field": "s", "type": "nominal", "scale": {"domain": ["2CamAG", "2CamL", "1CamL50", "1CamL75", "1CamL100", "ground truth"]}, "legend": {"orient": "none", "legendX": 230, "legendY": 4, "title": null}}}},
        {"data": {"name": "p7"}, "layer": [
          {"mark": "point", "encoding": {"x": {"field": "f", "type": "quantitative", "title": "frame no.", "scale": {"domain": [0, 100], "nice": false}}, "y": {"field": "g", "type": "quantitative", "title": "meters", "scale": {"domain": [-0.06, 0.12], "nice": false, "zero": false}, "axis": {"values": [-0.06, -0.04, -0.02, 0, 0.02, 0.04, 0.06, 0.08, 0.1, 0.12], "tickCount": 20, "labelOverlap": false, "format": ".2~f", "labelExpr": "replace(datum.label, '\u2212', '-')", "titleX": -30, "titleY": 130.5, "titleBaseline": "bottom"}}, "color": {"datum": "2CamAG", "type": "nominal", "legend": null}, "shape": {"datum": "2CamAG", "type": "nominal", "legend": null}}},
          {"mark": {"type": "point", "strokeWidth": 1.3}, "encoding": {"x": {"field": "f", "type": "quantitative"}, "y": {"field": "g", "type": "quantitative", "title": "meters"}, "color": {"datum": "2CamL", "type": "nominal", "legend": null}, "shape": {"datum": "2CamL", "type": "nominal", "legend": null}}},
          {"mark": "point", "encoding": {"x": {"field": "f", "type": "quantitative"}, "y": {"field": "l50", "type": "quantitative", "title": "meters"}, "color": {"datum": "1CamL50", "type": "nominal", "legend": null}, "shape": {"datum": "1CamL50", "type": "nominal", "legend": null}}},
          {"mark": "point", "encoding": {"x": {"field": "f", "type": "quantitative"}, "y": {"field": "l75", "type": "quantitative", "title": "meters"}, "color": {"datum": "1CamL75", "type": "nominal", "legend": null}, "shape": {"datum": "1CamL75", "type": "nominal", "legend": null}}},
          {"mark": {"type": "point", "strokeWidth": 1.8}, "encoding": {"x": {"field": "f", "type": "quantitative"}, "y": {"field": "l100", "type": "quantitative", "title": "meters"}, "color": {"datum": "1CamL100", "type": "nominal", "legend": null}, "shape": {"datum": "1CamL100", "type": "nominal", "legend": null}}},
          {"mark": "point", "encoding": {"x": {"field": "f", "type": "quantitative"}, "y": {"field": "g", "type": "quantitative", "title": "meters"}, "color": {"datum": "ground truth", "type": "nominal", "legend": null}, "shape": {"datum": "ground truth", "type": "nominal", "legend": null}}}
        ]}
      ]
    },
    {
      "width": 330, "height": 261, "title": "tz,the translation in Z direction",
      "layer": [
        {"data": {"name": "series"}, "transform": [{"filter": "false"}], "mark": "point", "encoding": {
          "color": {"field": "s", "type": "nominal", "scale": {"domain": ["2CamAG", "2CamL", "1CamL50", "1CamL75", "1CamL100", "ground truth"]}, "legend": {"orient": "none", "legendX": 113, "legendY": 5, "title": null}},
          "shape": {"field": "s", "type": "nominal", "scale": {"domain": ["2CamAG", "2CamL", "1CamL50", "1CamL75", "1CamL100", "ground truth"]}, "legend": {"orient": "none", "legendX": 113, "legendY": 5, "title": null}}}},
        {"data": {"name": "p8"}, "layer": [
          {"mark": "point", "encoding": {"x": {"field": "f", "type": "quantitative", "title": "frame no.", "scale": {"domain": [0, 100], "nice": false}}, "y": {"field": "g", "type": "quantitative", "title": "meters", "scale": {"domain": [-0.15, 0.1], "nice": false, "zero": false}, "axis": {"values": [-0.15, -0.1, -0.05, 0, 0.05, 0.1], "tickCount": 20, "labelOverlap": false, "format": ".2~f", "labelExpr": "replace(datum.label, '\u2212', '-')", "titleX": -30, "titleY": 130.5, "titleBaseline": "bottom"}}, "color": {"datum": "2CamAG", "type": "nominal", "legend": null}, "shape": {"datum": "2CamAG", "type": "nominal", "legend": null}}},
          {"mark": {"type": "point", "strokeWidth": 1.3}, "encoding": {"x": {"field": "f", "type": "quantitative"}, "y": {"field": "g", "type": "quantitative", "title": "meters"}, "color": {"datum": "2CamL", "type": "nominal", "legend": null}, "shape": {"datum": "2CamL", "type": "nominal", "legend": null}}},
          {"mark": "point", "encoding": {"x": {"field": "f", "type": "quantitative"}, "y": {"field": "l50", "type": "quantitative", "title": "meters"}, "color": {"datum": "1CamL50", "type": "nominal", "legend": null}, "shape": {"datum": "1CamL50", "type": "nominal", "legend": null}}},
          {"mark": "point", "encoding": {"x": {"field": "f", "type": "quantitative"}, "y": {"field": "l75", "type": "quantitative", "title": "meters"}, "color": {"datum": "1CamL75", "type": "nominal", "legend": null}, "shape": {"datum": "1CamL75", "type": "nominal", "legend": null}}},
          {"mark": {"type": "point", "strokeWidth": 1.8}, "encoding": {"x": {"field": "f", "type": "quantitative"}, "y": {"field": "l100", "type": "quantitative", "title": "meters"}, "color": {"datum": "1CamL100", "type": "nominal", "legend": null}, "shape": {"datum": "1CamL100", "type": "nominal", "legend": null}}},
          {"mark": "point", "encoding": {"x": {"field": "f", "type": "quantitative"}, "y": {"field": "g", "type": "quantitative", "title": "meters"}, "color": {"datum": "ground truth", "type": "nominal", "legend": null}, "shape": {"datum": "ground truth", "type": "nominal", "legend": null}}}
        ]}
      ]
    },
    {
      "width": 330, "height": 261, "title": "Beta, the rotation angle around Y axis",
      "layer": [
        {"data": {"name": "series"}, "transform": [{"filter": "false"}], "mark": "point", "encoding": {
          "color": {"field": "s", "type": "nominal", "scale": {"domain": ["2CamAG", "2CamL", "1CamL50", "1CamL75", "1CamL100", "ground truth"]}, "legend": {"orient": "none", "legendX": 233, "legendY": 1, "title": null}},
          "shape": {"field": "s", "type": "nominal", "scale": {"domain": ["2CamAG", "2CamL", "1CamL50", "1CamL75", "1CamL100", "ground truth"]}, "legend": {"orient": "none", "legendX": 233, "legendY": 1, "title": null}}}},
        {"data": {"name": "p9"}, "layer": [
          {"mark": "point", "encoding": {"x": {"field": "f", "type": "quantitative", "title": "frame no.", "scale": {"domain": [0, 100], "nice": false}}, "y": {"field": "g", "type": "quantitative", "title": "radians", "scale": {"domain": [-0.25, 0], "nice": false, "zero": false}, "axis": {"values": [-0.25, -0.2, -0.15, -0.1, -0.05, 0], "tickCount": 20, "labelOverlap": false, "format": ".2~f", "labelExpr": "replace(datum.label, '\u2212', '-')", "titleX": -30, "titleY": 130.5, "titleBaseline": "bottom"}}, "color": {"datum": "2CamAG", "type": "nominal", "legend": null}, "shape": {"datum": "2CamAG", "type": "nominal", "legend": null}}},
          {"mark": {"type": "point", "strokeWidth": 1.3}, "encoding": {"x": {"field": "f", "type": "quantitative"}, "y": {"field": "g", "type": "quantitative", "title": "radians"}, "color": {"datum": "2CamL", "type": "nominal", "legend": null}, "shape": {"datum": "2CamL", "type": "nominal", "legend": null}}},
          {"mark": "point", "encoding": {"x": {"field": "f", "type": "quantitative"}, "y": {"field": "l50", "type": "quantitative", "title": "radians"}, "color": {"datum": "1CamL50", "type": "nominal", "legend": null}, "shape": {"datum": "1CamL50", "type": "nominal", "legend": null}}},
          {"mark": "point", "encoding": {"x": {"field": "f", "type": "quantitative"}, "y": {"field": "l75", "type": "quantitative", "title": "radians"}, "color": {"datum": "1CamL75", "type": "nominal", "legend": null}, "shape": {"datum": "1CamL75", "type": "nominal", "legend": null}}},
          {"mark": {"type": "point", "strokeWidth": 1.8}, "encoding": {"x": {"field": "f", "type": "quantitative"}, "y": {"field": "l100", "type": "quantitative", "title": "radians"}, "color": {"datum": "1CamL100", "type": "nominal", "legend": null}, "shape": {"datum": "1CamL100", "type": "nominal", "legend": null}}},
          {"mark": "point", "encoding": {"x": {"field": "f", "type": "quantitative"}, "y": {"field": "g", "type": "quantitative", "title": "radians"}, "color": {"datum": "ground truth", "type": "nominal", "legend": null}, "shape": {"datum": "ground truth", "type": "nominal", "legend": null}}}
        ]}
      ]
    }
  ]
}
